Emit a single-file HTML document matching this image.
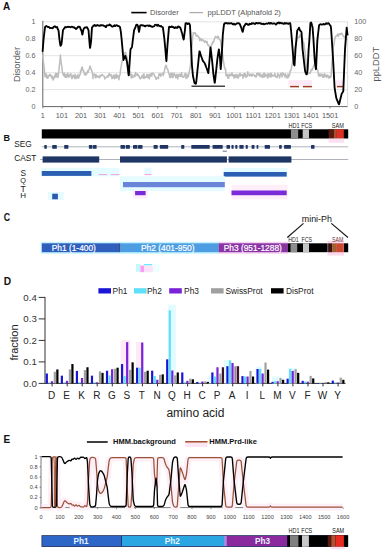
<!DOCTYPE html>
<html><head><meta charset="utf-8"><style>
html,body{margin:0;padding:0;background:#fff;width:382px;height:550px;overflow:hidden}
svg{display:block;font-family:"Liberation Sans", sans-serif}
</style></head><body>
<svg width="382" height="550" viewBox="0 0 382 550">
<rect width="382" height="550" fill="#fff"/>
<text x="2.9" y="10.4" font-size="10" font-weight="bold" fill="#111">A</text>
<line x1="131.3" y1="12.6" x2="146.6" y2="12.6" stroke="#000" stroke-width="1.6"/>
<text x="150" y="14.8" font-size="7.6" fill="#555">Disorder</text>
<line x1="189.5" y1="12.6" x2="203" y2="12.6" stroke="#aaa" stroke-width="1.2"/>
<text x="207.6" y="14.8" font-size="7.6" fill="#555">ppLDDT (Alphafold 2)</text>
<line x1="42.8" y1="89.6" x2="347.6" y2="89.6" stroke="#dcdcdc" stroke-width="0.8"/>
<line x1="42.8" y1="72.7" x2="347.6" y2="72.7" stroke="#dcdcdc" stroke-width="0.8"/>
<line x1="42.8" y1="55.7" x2="347.6" y2="55.7" stroke="#dcdcdc" stroke-width="0.8"/>
<line x1="42.8" y1="38.8" x2="347.6" y2="38.8" stroke="#dcdcdc" stroke-width="0.8"/>
<line x1="42.8" y1="21.8" x2="347.6" y2="21.8" stroke="#dcdcdc" stroke-width="0.8"/>
<line x1="42.8" y1="20.8" x2="42.8" y2="106.6" stroke="#555" stroke-width="0.9"/>
<line x1="42.8" y1="106.6" x2="347.6" y2="106.6" stroke="#555" stroke-width="0.9"/>
<line x1="347.6" y1="21.8" x2="347.6" y2="106.6" stroke="#d0d0d0" stroke-width="0.8"/>
<text x="35.5" y="109.1" font-size="7.2" fill="#666" text-anchor="end">0</text>
<text x="35.5" y="92.1" font-size="7.2" fill="#666" text-anchor="end">0.2</text>
<text x="35.5" y="75.2" font-size="7.2" fill="#666" text-anchor="end">0.4</text>
<text x="35.5" y="58.2" font-size="7.2" fill="#666" text-anchor="end">0.6</text>
<text x="35.5" y="41.3" font-size="7.2" fill="#666" text-anchor="end">0.8</text>
<text x="35.5" y="24.3" font-size="7.2" fill="#666" text-anchor="end">1</text>
<text x="354.3" y="109.1" font-size="7.2" fill="#666">0</text>
<text x="354.3" y="92.1" font-size="7.2" fill="#666">20</text>
<text x="354.3" y="75.2" font-size="7.2" fill="#666">40</text>
<text x="354.3" y="58.2" font-size="7.2" fill="#666">60</text>
<text x="354.3" y="41.3" font-size="7.2" fill="#666">80</text>
<text x="354.3" y="24.3" font-size="7.2" fill="#666">100</text>
<line x1="42.8" y1="106.6" x2="42.8" y2="108.39999999999999" stroke="#555" stroke-width="0.7"/>
<text x="42.8" y="118.2" font-size="7.3" fill="#5a5a5a" text-anchor="middle">1</text>
<line x1="61.9" y1="106.6" x2="61.9" y2="108.39999999999999" stroke="#555" stroke-width="0.7"/>
<text x="61.9" y="118.2" font-size="7.3" fill="#5a5a5a" text-anchor="middle">101</text>
<line x1="81.1" y1="106.6" x2="81.1" y2="108.39999999999999" stroke="#555" stroke-width="0.7"/>
<text x="81.1" y="118.2" font-size="7.3" fill="#5a5a5a" text-anchor="middle">201</text>
<line x1="100.2" y1="106.6" x2="100.2" y2="108.39999999999999" stroke="#555" stroke-width="0.7"/>
<text x="100.2" y="118.2" font-size="7.3" fill="#5a5a5a" text-anchor="middle">301</text>
<line x1="119.4" y1="106.6" x2="119.4" y2="108.39999999999999" stroke="#555" stroke-width="0.7"/>
<text x="119.4" y="118.2" font-size="7.3" fill="#5a5a5a" text-anchor="middle">401</text>
<line x1="138.6" y1="106.6" x2="138.6" y2="108.39999999999999" stroke="#555" stroke-width="0.7"/>
<text x="138.6" y="118.2" font-size="7.3" fill="#5a5a5a" text-anchor="middle">501</text>
<line x1="157.7" y1="106.6" x2="157.7" y2="108.39999999999999" stroke="#555" stroke-width="0.7"/>
<text x="157.7" y="118.2" font-size="7.3" fill="#5a5a5a" text-anchor="middle">601</text>
<line x1="176.8" y1="106.6" x2="176.8" y2="108.39999999999999" stroke="#555" stroke-width="0.7"/>
<text x="176.8" y="118.2" font-size="7.3" fill="#5a5a5a" text-anchor="middle">701</text>
<line x1="196.0" y1="106.6" x2="196.0" y2="108.39999999999999" stroke="#555" stroke-width="0.7"/>
<text x="196.0" y="118.2" font-size="7.3" fill="#5a5a5a" text-anchor="middle">801</text>
<line x1="215.1" y1="106.6" x2="215.1" y2="108.39999999999999" stroke="#555" stroke-width="0.7"/>
<text x="215.1" y="118.2" font-size="7.3" fill="#5a5a5a" text-anchor="middle">901</text>
<line x1="234.3" y1="106.6" x2="234.3" y2="108.39999999999999" stroke="#555" stroke-width="0.7"/>
<text x="234.3" y="118.2" font-size="7.3" fill="#5a5a5a" text-anchor="middle">1001</text>
<line x1="253.4" y1="106.6" x2="253.4" y2="108.39999999999999" stroke="#555" stroke-width="0.7"/>
<text x="253.4" y="118.2" font-size="7.3" fill="#5a5a5a" text-anchor="middle">1101</text>
<line x1="272.6" y1="106.6" x2="272.6" y2="108.39999999999999" stroke="#555" stroke-width="0.7"/>
<text x="272.6" y="118.2" font-size="7.3" fill="#5a5a5a" text-anchor="middle">1201</text>
<line x1="291.8" y1="106.6" x2="291.8" y2="108.39999999999999" stroke="#555" stroke-width="0.7"/>
<text x="291.8" y="118.2" font-size="7.3" fill="#5a5a5a" text-anchor="middle">1301</text>
<line x1="310.9" y1="106.6" x2="310.9" y2="108.39999999999999" stroke="#555" stroke-width="0.7"/>
<text x="310.9" y="118.2" font-size="7.3" fill="#5a5a5a" text-anchor="middle">1401</text>
<line x1="330.1" y1="106.6" x2="330.1" y2="108.39999999999999" stroke="#555" stroke-width="0.7"/>
<text x="330.1" y="118.2" font-size="7.3" fill="#5a5a5a" text-anchor="middle">1501</text>
<text transform="translate(20.2,64.5) rotate(-90)" font-size="9.3" fill="#555" text-anchor="middle">Disorder</text>
<text transform="translate(379.3,64.2) rotate(-90)" font-size="9.3" fill="#555" text-anchor="middle">ppLDDT</text>
<rect x="288.4" y="80.1" width="23.5" height="5.5" fill="#fdeaf6"/>
<rect x="336" y="80.3" width="7.5" height="5.5" fill="#fdeaf6"/>
<line x1="290.1" y1="86.6" x2="299" y2="86.6" stroke="#a03c1e" stroke-width="1.5"/>
<line x1="302.9" y1="86.6" x2="311.9" y2="86.6" stroke="#a03c1e" stroke-width="1.5"/>
<line x1="336.9" y1="86.6" x2="342.9" y2="86.6" stroke="#a03c1e" stroke-width="1.5"/>
<line x1="191.5" y1="86.2" x2="225" y2="86.2" stroke="#444" stroke-width="1.5"/>
<polyline points="42.6,54.7 42.6,55.2 43.2,59.1 43.5,62.5 43.8,64.4 44.4,69.7 45.0,76.7 45.0,74.5 45.6,75.9 46.2,73.7 46.8,78.1 47.0,77.2 47.4,76.0 48.0,78.2 48.6,75.4 49.2,76.0 49.8,74.2 50.0,75.5 50.4,74.7 51.0,75.3 51.6,78.1 52.2,76.0 52.8,77.3 53.0,80.0 53.4,79.6 54.0,77.8 54.6,76.4 55.2,74.5 55.8,73.4 56.0,77.4 56.4,75.3 57.0,73.5 57.6,76.4 58.0,77.4 58.2,75.1 58.8,72.3 59.4,65.2 59.5,65.0 60.0,59.7 60.4,55.1 60.6,57.5 61.2,62.9 61.5,65.1 61.8,66.5 62.4,72.2 63.0,74.0 63.0,74.1 63.6,75.7 64.2,73.0 64.8,76.9 65.4,76.6 66.0,77.5 66.0,74.4 66.6,77.4 67.2,74.0 67.8,73.2 68.4,77.0 69.0,76.9 69.0,77.0 69.6,75.3 70.2,74.6 70.8,73.6 71.4,77.4 72.0,78.1 72.0,78.7 72.6,75.7 73.2,75.1 73.8,77.1 74.4,77.8 75.0,78.4 75.0,74.2 75.6,76.1 76.2,78.5 76.8,76.2 77.4,77.3 78.0,74.5 78.0,77.9 78.6,78.0 79.2,76.3 79.8,75.4 80.4,73.0 80.5,70.7 81.0,71.7 81.6,67.8 82.0,67.2 82.2,67.0 82.8,70.0 83.4,69.9 83.5,71.4 84.0,71.8 84.6,74.8 85.2,73.0 85.8,75.1 86.0,73.4 86.4,74.0 87.0,73.6 87.6,70.8 88.2,72.3 88.5,70.4 88.8,70.3 89.4,68.2 90.0,65.9 90.0,66.4 90.6,67.8 91.2,69.6 91.5,69.8 91.8,71.4 92.4,72.0 93.0,78.6 93.0,74.7 93.6,74.8 94.2,74.0 94.8,75.0 95.4,77.8 96.0,77.5 96.0,74.6 96.6,75.8 97.2,75.9 97.8,77.1 98.4,76.0 99.0,76.6 99.6,77.8 100.0,77.2 100.2,75.3 100.8,75.9 101.4,75.7 102.0,74.5 102.6,75.1 103.2,75.7 103.8,76.0 104.0,76.0 104.4,77.2 105.0,79.0 105.6,77.6 106.2,77.4 106.8,76.9 107.4,75.8 108.0,77.2 108.0,76.0 108.6,75.3 109.2,73.4 109.8,75.8 110.4,74.7 111.0,74.6 111.6,76.8 112.0,78.5 112.2,75.9 112.8,78.2 113.4,76.8 114.0,74.7 114.6,78.8 115.2,75.7 115.8,75.0 116.0,77.8 116.4,74.3 117.0,77.9 117.6,75.4 118.2,76.9 118.8,76.5 119.0,79.8 119.4,75.3 120.0,75.1 120.5,70.2 120.6,69.7 121.2,66.1 121.8,62.5 122.0,61.5 122.4,61.0 123.0,58.3 123.6,57.5 124.2,55.5 124.8,53.3 125.3,52.2 125.4,52.2 126.0,54.3 126.6,56.6 127.0,57.4 127.2,59.4 127.8,64.2 128.0,64.7 128.4,67.0 129.0,69.3 129.6,70.4 130.0,75.8 130.2,71.4 130.8,73.6 131.4,77.9 132.0,74.8 132.0,77.8 132.6,76.4 133.2,77.3 133.8,76.2 134.4,74.7 135.0,76.6 135.6,72.6 136.0,74.7 136.2,74.4 136.8,75.3 137.4,73.8 138.0,74.6 138.6,76.6 139.2,76.0 139.8,78.4 140.0,77.5 140.4,78.8 141.0,78.0 141.6,77.1 142.2,75.3 142.8,77.8 143.4,74.9 144.0,73.8 144.0,78.4 144.6,76.4 145.2,77.7 145.8,76.6 146.4,77.2 147.0,74.3 147.6,75.3 148.0,77.9 148.2,77.3 148.8,74.8 149.4,78.7 150.0,74.2 150.6,75.8 151.2,73.5 151.8,76.2 152.0,73.8 152.4,73.3 153.0,73.1 153.6,74.1 154.2,74.5 154.8,76.6 155.4,76.4 156.0,79.4 156.0,79.4 156.6,78.4 157.2,77.6 157.8,78.3 158.4,78.7 159.0,73.8 159.6,74.1 160.0,75.3 160.2,73.8 160.8,76.3 161.4,74.3 162.0,74.1 162.6,74.0 163.0,72.9 163.2,75.6 163.8,73.1 164.4,70.9 165.0,67.8 165.6,66.2 166.0,65.2 166.2,65.3 166.8,67.7 167.4,69.3 168.0,69.8 168.0,70.5 168.6,72.8 169.2,74.2 169.8,77.6 170.0,75.0 170.4,73.4 171.0,77.4 171.6,73.3 172.2,73.3 172.8,77.7 173.4,76.5 174.0,74.2 174.0,73.1 174.6,74.7 175.2,74.8 175.8,77.8 176.4,75.8 177.0,74.3 177.6,79.0 178.0,77.6 178.2,74.9 178.8,74.6 179.4,76.1 180.0,73.9 180.6,76.4 181.2,76.0 181.8,72.7 182.0,76.6 182.4,76.6 183.0,77.4 183.6,76.3 184.2,76.6 184.8,74.0 185.4,73.4 186.0,73.7 186.0,78.4 186.6,76.6 187.2,77.9 187.8,74.6 188.4,76.5 189.0,72.7 189.0,73.3 189.6,69.8 190.2,67.1 190.5,65.1 190.8,60.5 191.4,51.4 191.5,50.1 192.0,45.9 192.6,38.2 193.0,34.9 193.2,32.7 193.8,33.3 194.4,33.5 195.0,33.3 195.0,32.4 195.6,33.6 196.2,36.0 196.8,36.1 197.0,36.2 197.4,35.3 198.0,36.0 198.6,37.1 199.2,37.6 199.8,40.5 200.0,38.2 200.4,39.4 201.0,38.9 201.6,40.7 202.2,39.4 202.8,39.8 203.0,39.9 203.4,40.5 204.0,41.5 204.6,42.2 205.2,41.0 205.8,41.2 206.4,42.7 206.8,42.6 207.0,41.4 207.6,44.3 208.2,45.4 208.8,45.2 209.0,46.2 209.4,46.2 210.0,47.0 210.5,48.0 210.6,47.8 211.2,46.1 211.8,44.6 212.0,43.3 212.4,43.9 213.0,41.5 213.6,42.0 214.2,39.8 214.8,38.0 215.4,36.5 215.6,37.0 216.0,36.8 216.6,37.5 217.2,37.3 217.8,36.3 218.0,38.4 218.4,36.5 219.0,38.9 219.6,39.1 220.0,39.6 220.2,40.1 220.8,42.2 221.4,46.5 222.0,49.9 222.0,50.2 222.6,54.4 223.2,59.2 223.8,63.1 224.0,64.8 224.4,66.7 225.0,68.9 225.6,69.4 226.0,75.4 226.2,74.3 226.8,75.9 227.4,74.4 228.0,78.3 228.0,77.6 228.6,78.3 229.2,74.1 229.8,75.4 230.4,74.8 231.0,75.8 231.6,73.8 232.0,72.9 232.2,74.9 232.8,75.9 233.4,74.7 234.0,78.0 234.6,75.2 235.2,74.8 235.8,77.6 236.0,75.8 236.4,74.7 237.0,74.6 237.6,77.9 238.2,77.9 238.8,76.1 239.4,74.0 240.0,76.1 240.0,73.5 240.6,74.2 241.2,75.5 241.8,74.9 242.4,74.8 243.0,78.2 243.6,74.2 244.0,76.6 244.2,73.5 244.8,73.5 245.4,73.8 246.0,77.6 246.6,75.9 247.2,76.3 247.8,71.8 248.0,74.9 248.4,73.9 249.0,74.1 249.6,75.9 250.2,74.1 250.8,75.5 251.4,74.5 252.0,75.4 252.0,76.2 252.6,74.1 253.2,74.5 253.8,75.1 254.4,75.3 255.0,76.8 255.6,75.8 256.0,75.3 256.2,76.9 256.8,73.5 257.4,73.1 258.0,74.7 258.6,73.4 259.2,75.7 259.8,75.9 260.0,73.6 260.4,76.6 261.0,75.7 261.6,74.9 262.2,77.4 262.8,77.0 263.4,73.6 264.0,73.3 264.0,77.2 264.6,73.4 265.2,76.6 265.8,74.5 266.4,74.9 267.0,76.0 267.6,78.1 268.0,73.4 268.2,74.1 268.8,76.7 269.4,74.8 270.0,73.9 270.6,77.1 271.2,73.2 271.8,75.2 272.0,76.4 272.4,75.5 273.0,75.3 273.6,75.6 274.2,76.1 274.8,73.5 275.4,75.5 276.0,76.6 276.0,77.0 276.6,77.3 277.2,77.4 277.8,73.4 278.4,75.0 279.0,75.5 279.6,77.9 280.0,75.6 280.2,74.7 280.8,73.3 281.4,74.6 282.0,77.0 282.6,72.9 283.2,73.5 283.8,74.1 284.0,75.2 284.4,74.4 285.0,77.2 285.6,73.9 286.2,75.9 286.8,77.1 287.4,78.1 288.0,77.9 288.0,74.1 288.6,76.9 289.2,75.7 289.8,73.8 290.0,71.5 290.4,70.7 291.0,70.3 291.5,67.5 291.6,67.2 292.2,64.0 292.8,61.4 293.0,59.8 293.4,57.1 294.0,53.8 294.6,50.2 295.0,48.3 295.2,46.9 295.8,44.9 296.4,41.8 297.0,40.0 297.0,39.6 297.6,38.1 298.2,37.6 298.8,36.9 299.4,37.3 300.0,34.8 300.0,35.5 300.6,36.5 301.2,36.9 301.8,38.0 302.0,38.0 302.4,39.0 303.0,41.5 303.6,42.4 304.0,44.3 304.2,45.9 304.8,50.0 305.0,51.8 305.4,56.5 306.0,62.4 306.5,67.4 306.6,66.6 307.2,69.6 307.8,73.6 308.0,74.1 308.4,73.1 309.0,72.9 309.6,73.1 310.0,72.4 310.2,73.3 310.8,71.2 311.4,69.2 312.0,69.5 312.0,70.5 312.6,68.9 313.2,66.8 313.8,66.2 314.4,64.2 315.0,63.2 315.0,62.8 315.6,64.8 316.2,66.9 316.8,68.9 317.4,69.3 318.0,71.5 318.0,71.6 318.6,76.1 319.2,75.2 319.8,73.8 320.0,76.1 320.4,76.1 321.0,75.7 321.6,74.1 322.2,75.1 322.8,77.2 323.4,74.5 324.0,75.0 324.0,77.2 324.6,73.8 325.2,76.5 325.8,75.4 326.4,77.1 327.0,75.0 327.6,76.1 328.0,75.3 328.2,77.8 328.8,77.9 329.4,76.2 330.0,77.8 330.6,76.3 331.0,76.7 331.2,74.5 331.8,64.5 332.4,57.7 333.0,49.4 333.0,49.5 333.6,45.5 334.2,43.1 334.8,38.3 335.0,38.0 335.4,36.4 336.0,36.3 336.6,35.9 337.2,35.0 337.8,34.0 338.0,35.7 338.4,36.2 339.0,34.2 339.6,34.0 340.0,34.5 340.2,33.6 340.8,34.5 341.4,33.2 342.0,33.2 342.0,34.1 342.6,34.8 343.2,35.9 343.8,36.8 344.4,36.8 345.0,37.5 345.0,36.3 345.6,36.9 346.2,38.5 346.8,39.8 347.0,38.8" fill="none" stroke="#bdbdbd" stroke-width="1.5" stroke-linejoin="round"/>
<path d="M42.60,51.16 L42.60,51.17 Q42.60,51.18 42.70,49.98 L43.40,41.38 Q43.50,40.19 43.50,39.97 L43.50,39.97 Q43.50,39.76 43.64,38.56 L44.26,33.45 Q44.40,32.26 44.55,31.07 L44.85,28.56 Q45.00,27.37 45.15,26.90 L45.15,26.90 Q45.30,26.43 45.75,26.21 L45.75,26.21 Q46.20,25.99 46.60,26.06 L46.60,26.06 Q47.00,26.14 47.05,26.47 L47.05,26.47 Q47.10,26.80 47.55,26.95 L47.55,26.95 Q48.00,27.10 48.45,26.99 L48.45,26.99 Q48.90,26.89 49.35,27.34 L49.35,27.34 Q49.80,27.79 49.90,28.03 L49.90,28.03 Q50.00,28.27 50.35,28.02 L50.35,28.02 Q50.70,27.76 51.15,27.85 L51.15,27.85 Q51.60,27.95 52.05,28.14 L52.05,28.14 Q52.50,28.33 52.75,28.06 L52.75,28.06 Q53.00,27.79 53.20,27.46 L53.20,27.46 Q53.40,27.13 53.85,26.74 L53.85,26.74 Q54.30,26.35 54.65,26.30 L54.65,26.30 Q55.00,26.25 55.10,26.41 L55.10,26.41 Q55.20,26.57 55.65,26.98 L55.65,26.98 Q56.10,27.40 56.55,27.42 L56.55,27.42 Q57.00,27.44 57.00,27.07 L57.00,27.07 Q57.00,26.71 57.37,27.85 L57.53,28.34 Q57.90,29.48 58.20,29.73 L58.20,29.73 Q58.50,29.98 58.61,31.18 L58.69,31.92 Q58.80,33.12 58.93,34.31 L59.37,38.57 Q59.50,39.76 59.60,40.43 L59.60,40.43 Q59.70,41.10 59.88,42.28 L60.22,44.63 Q60.40,45.82 60.50,45.84 L60.50,45.84 Q60.60,45.87 61.05,44.99 L61.05,44.99 Q61.50,44.11 61.50,44.16 L61.50,44.16 Q61.50,44.21 61.63,43.02 L62.27,36.88 Q62.40,35.69 62.52,34.49 L62.88,31.14 Q63.00,29.94 63.15,29.75 L63.15,29.75 Q63.30,29.56 63.75,28.95 L63.75,28.95 Q64.20,28.35 64.60,27.96 L64.60,27.96 Q65.00,27.58 65.05,27.23 L65.05,27.23 Q65.10,26.88 65.55,27.17 L65.55,27.17 Q66.00,27.46 66.45,27.16 L66.45,27.16 Q66.90,26.87 67.35,26.96 L67.35,26.96 Q67.80,27.06 67.90,26.78 L67.90,26.78 Q68.00,26.50 68.35,26.77 L68.35,26.77 Q68.70,27.04 69.15,26.91 L69.15,26.91 Q69.60,26.78 70.05,27.07 L70.05,27.07 Q70.50,27.37 70.75,27.21 L70.75,27.21 Q71.00,27.05 71.20,26.92 L71.20,26.92 Q71.40,26.79 71.85,26.67 L71.85,26.67 Q72.30,26.55 72.75,27.00 L72.75,27.00 Q73.20,27.46 73.60,27.19 L73.60,27.19 Q74.00,26.93 74.05,27.32 L74.05,27.32 Q74.10,27.71 74.55,28.00 L74.55,28.00 Q75.00,28.29 75.45,28.26 L75.45,28.26 Q75.90,28.24 75.95,28.75 L75.95,28.75 Q76.00,29.26 76.40,28.65 L76.40,28.65 Q76.80,28.05 77.25,27.85 L77.25,27.85 Q77.70,27.65 77.85,27.25 L77.85,27.25 Q78.00,26.85 78.30,26.76 L78.30,26.76 Q78.60,26.66 79.05,26.76 L79.05,26.76 Q79.50,26.85 79.75,26.92 L79.75,26.92 Q80.00,26.99 80.20,27.79 L80.20,27.79 Q80.40,28.60 80.85,29.45 L80.85,29.45 Q81.30,30.30 81.40,30.51 L81.40,30.51 Q81.50,30.71 81.73,31.89 L81.97,33.13 Q82.20,34.31 82.30,34.54 L82.30,34.54 Q82.40,34.76 82.63,33.58 L82.87,32.33 Q83.10,31.15 83.30,30.07 L83.30,30.07 Q83.50,28.99 83.75,28.76 L83.75,28.76 Q84.00,28.53 84.45,27.83 L84.45,27.83 Q84.90,27.14 84.95,27.42 L84.95,27.42 Q85.00,27.70 85.40,27.55 L85.40,27.55 Q85.80,27.40 86.25,27.26 L86.25,27.26 Q86.70,27.12 86.85,27.15 L86.85,27.15 Q87.00,27.19 87.30,27.70 L87.30,27.70 Q87.60,28.21 88.05,29.24 L88.05,29.24 Q88.50,30.28 88.50,30.06 L88.50,30.06 Q88.50,29.84 88.59,31.03 L89.21,38.92 Q89.30,40.11 89.35,40.69 L89.35,40.69 Q89.40,41.28 89.50,42.47 L89.90,47.23 Q90.00,48.43 90.15,47.50 L90.15,47.50 Q90.30,46.57 90.49,45.38 L90.81,43.44 Q91.00,42.26 91.08,41.06 L91.12,40.57 Q91.20,39.37 91.28,38.17 L91.92,28.42 Q92.00,27.22 92.05,27.39 L92.05,27.39 Q92.10,27.55 92.55,26.76 L92.55,26.76 Q93.00,25.97 93.45,26.06 L93.45,26.06 Q93.90,26.15 93.95,25.51 L93.95,25.51 Q94.00,24.88 94.40,24.83 L94.40,24.83 Q94.80,24.79 95.25,25.53 L95.25,25.53 Q95.70,26.27 96.15,25.84 L96.15,25.84 Q96.60,25.41 96.80,25.31 L96.80,25.31 Q97.00,25.21 97.25,25.04 L97.25,25.04 Q97.50,24.86 97.95,25.21 L97.95,25.21 Q98.40,25.56 98.85,25.61 L98.85,25.61 Q99.30,25.67 99.65,25.85 L99.65,25.85 Q100.00,26.04 100.10,25.61 L100.10,25.61 Q100.20,25.18 100.65,25.22 L100.65,25.22 Q101.10,25.25 101.55,25.23 L101.55,25.23 Q102.00,25.20 102.45,25.31 L102.45,25.31 Q102.90,25.42 102.95,25.30 L102.95,25.30 Q103.00,25.18 103.40,25.57 L103.40,25.57 Q103.80,25.95 104.25,25.84 L104.25,25.84 Q104.70,25.72 105.15,26.37 L105.15,26.37 Q105.60,27.02 105.80,27.13 L105.80,27.13 Q106.00,27.24 106.25,26.39 L106.25,26.39 Q106.50,25.55 106.95,25.44 L106.95,25.44 Q107.40,25.33 107.85,25.39 L107.85,25.39 Q108.30,25.45 108.65,25.44 L108.65,25.44 Q109.00,25.43 109.10,24.90 L109.10,24.90 Q109.20,24.37 109.65,24.62 L109.65,24.62 Q110.10,24.86 110.55,25.23 L110.55,25.23 Q111.00,25.60 111.45,25.92 L111.45,25.92 Q111.90,26.24 111.95,26.44 L111.95,26.44 Q112.00,26.65 112.40,26.55 L112.40,26.55 Q112.80,26.45 113.25,26.32 L113.25,26.32 Q113.70,26.19 114.15,25.52 L114.15,25.52 Q114.60,24.85 114.80,25.56 L114.80,25.56 Q115.00,26.26 115.25,26.01 L115.25,26.01 Q115.50,25.77 115.95,25.42 L115.95,25.42 Q116.40,25.07 116.85,25.28 L116.85,25.28 Q117.30,25.49 117.65,25.84 L117.65,25.84 Q118.00,26.19 118.10,26.03 L118.10,26.03 Q118.20,25.87 118.65,26.03 L118.65,26.03 Q119.10,26.19 119.55,26.59 L119.55,26.59 Q120.00,26.99 120.00,27.00 L120.00,27.00 Q120.00,27.02 120.20,28.20 L120.70,31.19 Q120.90,32.38 120.95,32.78 L120.95,32.78 Q121.00,33.18 121.12,34.37 L121.68,39.75 Q121.80,40.94 121.80,41.11 L121.80,41.11 Q121.80,41.28 121.91,42.48 L122.59,49.93 Q122.70,51.12 122.80,52.32 L123.40,59.09 Q123.50,60.28 123.55,59.88 L123.55,59.88 Q123.60,59.48 124.05,58.63 L124.05,58.63 Q124.50,57.79 124.90,56.71 L124.90,56.71 Q125.30,55.64 125.35,55.87 L125.35,55.87 Q125.40,56.10 125.74,57.26 L125.96,58.03 Q126.30,59.18 126.59,60.35 L126.71,60.86 Q127.00,62.03 127.10,62.79 L127.10,62.79 Q127.20,63.56 127.34,64.75 L127.96,69.82 Q128.10,71.02 128.24,72.21 L128.56,74.81 Q128.70,76.00 128.79,74.81 L128.91,73.27 Q129.00,72.08 129.08,70.88 L129.82,59.73 Q129.90,58.54 129.98,57.34 L130.42,50.52 Q130.50,49.32 130.65,49.09 L130.65,49.09 Q130.80,48.85 131.25,48.17 L131.25,48.17 Q131.70,47.48 131.85,47.34 L131.85,47.34 Q132.00,47.19 132.13,46.00 L132.47,43.01 Q132.60,41.82 132.75,40.63 L133.35,36.10 Q133.50,34.91 133.64,33.71 L133.86,31.96 Q134.00,30.77 134.20,30.08 L134.20,30.08 Q134.40,29.39 134.85,28.50 L134.85,28.50 Q135.30,27.61 135.69,26.47 L135.81,26.13 Q136.20,25.00 136.35,24.91 L136.35,24.91 Q136.50,24.82 136.80,24.63 L136.80,24.63 Q137.10,24.44 137.55,25.20 L137.55,25.20 Q138.00,25.95 138.00,26.05 L138.00,26.05 Q138.00,26.14 138.20,27.32 L138.70,30.29 Q138.90,31.48 138.95,31.80 L138.95,31.80 Q139.00,32.12 139.22,30.94 L139.58,29.01 Q139.80,27.83 139.90,26.71 L139.90,26.71 Q140.00,25.59 140.35,25.40 L140.35,25.40 Q140.70,25.21 141.15,25.25 L141.15,25.25 Q141.60,25.29 142.05,25.28 L142.05,25.28 Q142.50,25.28 142.75,25.51 L142.75,25.51 Q143.00,25.74 143.20,25.60 L143.20,25.60 Q143.40,25.47 143.85,25.64 L143.85,25.64 Q144.30,25.81 144.75,26.15 L144.75,26.15 Q145.20,26.49 145.60,26.06 L145.60,26.06 Q146.00,25.63 146.05,25.61 L146.05,25.61 Q146.10,25.60 146.55,25.65 L146.55,25.65 Q147.00,25.71 147.45,25.53 L147.45,25.53 Q147.90,25.36 148.35,25.57 L148.35,25.57 Q148.80,25.78 148.90,26.00 L148.90,26.00 Q149.00,26.22 149.35,25.70 L149.35,25.70 Q149.70,25.18 150.15,25.62 L150.15,25.62 Q150.60,26.06 151.05,26.34 L151.05,26.34 Q151.50,26.62 151.75,26.55 L151.75,26.55 Q152.00,26.49 152.20,26.76 L152.20,26.76 Q152.40,27.03 152.85,26.74 L152.85,26.74 Q153.30,26.45 153.75,26.41 L153.75,26.41 Q154.20,26.38 154.60,25.63 L154.60,25.63 Q155.00,24.88 155.05,24.94 L155.05,24.94 Q155.10,25.00 155.55,24.82 L155.55,24.82 Q156.00,24.64 156.45,25.17 L156.45,25.17 Q156.90,25.71 157.35,25.74 L157.35,25.74 Q157.80,25.77 157.90,25.00 L157.90,25.00 Q158.00,24.22 158.35,24.96 L158.35,24.96 Q158.70,25.70 159.15,25.80 L159.15,25.80 Q159.60,25.90 160.05,26.19 L160.05,26.19 Q160.50,26.49 160.75,26.06 L160.75,26.06 Q161.00,25.63 161.20,26.19 L161.20,26.19 Q161.40,26.74 161.85,26.81 L161.85,26.81 Q162.30,26.88 162.65,27.10 L162.65,27.10 Q163.00,27.32 163.10,28.52 L163.10,28.55 Q163.20,29.75 163.36,30.94 L163.94,35.34 Q164.10,36.53 164.23,37.72 L164.37,38.93 Q164.50,40.12 164.61,41.31 L164.89,44.36 Q165.00,45.55 165.10,46.75 L165.80,54.71 Q165.90,55.91 166.00,57.10 L166.30,60.64 Q166.40,61.83 166.47,60.64 L166.73,56.61 Q166.80,55.41 166.88,54.21 L167.42,46.18 Q167.50,44.98 167.60,43.78 L167.60,43.71 Q167.70,42.51 167.80,41.32 L168.50,32.81 Q168.60,31.61 168.70,30.42 L168.90,28.15 Q169.00,26.96 169.25,26.68 L169.25,26.68 Q169.50,26.41 169.95,26.83 L169.95,26.83 Q170.40,27.25 170.85,27.02 L170.85,27.02 Q171.30,26.80 171.65,26.48 L171.65,26.48 Q172.00,26.15 172.10,26.75 L172.10,26.75 Q172.20,27.36 172.65,27.08 L172.65,27.08 Q173.10,26.80 173.55,27.29 L173.55,27.29 Q174.00,27.77 174.45,28.05 L174.45,28.05 Q174.90,28.32 174.95,27.97 L174.95,27.97 Q175.00,27.62 175.40,27.29 L175.40,27.29 Q175.80,26.95 176.25,27.51 L176.25,27.51 Q176.70,28.06 177.15,27.96 L177.15,27.96 Q177.60,27.86 177.80,27.17 L177.80,27.17 Q178.00,26.47 178.25,26.51 L178.25,26.51 Q178.50,26.55 178.95,26.86 L178.95,26.86 Q179.40,27.17 179.85,27.39 L179.85,27.39 Q180.30,27.62 180.40,27.95 L180.40,27.95 Q180.50,28.28 180.85,29.31 L180.85,29.31 Q181.20,30.34 181.51,31.50 L181.69,32.13 Q182.00,33.29 182.05,33.28 L182.05,33.28 Q182.10,33.26 182.37,34.43 L182.73,36.01 Q183.00,37.18 183.29,38.34 L183.41,38.80 Q183.70,39.96 183.80,39.13 L183.80,39.13 Q183.90,38.30 184.05,37.11 L184.65,32.47 Q184.80,31.28 184.90,30.54 L184.90,30.54 Q185.00,29.80 185.09,28.60 L185.41,24.57 Q185.50,23.37 185.60,23.18 L185.60,23.18 Q185.70,22.99 186.15,23.16 L186.15,23.16 Q186.60,23.33 186.80,23.30 L186.80,23.30 Q187.00,23.27 187.25,23.67 L187.25,23.67 Q187.50,24.07 187.95,23.85 L187.95,23.85 Q188.40,23.64 188.70,23.36 L188.70,23.36 Q189.00,23.09 189.15,23.54 L189.15,23.54 Q189.30,23.99 189.65,24.44 L189.65,24.44 Q190.00,24.88 190.05,26.08 L190.15,28.06 Q190.20,29.25 190.26,30.45 L190.94,44.06 Q191.00,45.26 191.05,46.14 L191.05,46.14 Q191.10,47.01 191.16,48.21 L191.94,64.89 Q192.00,66.09 192.00,65.96 L192.00,65.96 Q192.00,65.83 192.11,67.03 L192.79,74.07 Q192.90,75.26 192.95,75.67 L192.95,75.67 Q193.00,76.07 193.26,77.24 L193.54,78.57 Q193.80,79.74 194.03,80.92 L194.27,82.08 Q194.50,83.25 194.60,83.26 L194.60,83.26 Q194.70,83.28 195.15,83.46 L195.15,83.46 Q195.60,83.65 195.80,83.77 L195.80,83.77 Q196.00,83.88 196.14,82.69 L196.36,80.89 Q196.50,79.69 196.63,78.50 L196.87,76.17 Q197.00,74.97 197.12,73.78 L197.28,72.17 Q197.40,70.98 197.52,69.78 L198.18,63.51 Q198.30,62.32 198.42,61.12 L199.08,54.67 Q199.20,53.48 199.34,52.28 L199.36,52.03 Q199.50,50.84 199.80,51.70 L199.80,51.70 Q200.10,52.56 200.41,53.71 L200.69,54.72 Q201.00,55.87 201.00,55.88 L201.00,55.88 Q201.00,55.89 201.45,57.00 L201.45,57.00 Q201.90,58.10 202.29,59.23 L202.41,59.59 Q202.80,60.72 203.00,61.07 L203.00,61.07 Q203.20,61.41 203.45,61.69 L203.45,61.69 Q203.70,61.98 204.15,62.36 L204.15,62.36 Q204.60,62.73 204.60,62.94 L204.60,62.94 Q204.60,63.15 205.05,64.22 L205.05,64.22 Q205.50,65.29 205.90,66.42 L206.00,66.70 Q206.40,67.83 206.45,67.83 L206.45,67.83 Q206.50,67.83 206.90,68.93 L206.90,68.93 Q207.30,70.02 207.67,71.17 L207.83,71.66 Q208.20,72.80 208.25,73.09 L208.25,73.09 Q208.30,73.37 208.41,72.17 L208.99,65.80 Q209.10,64.60 209.20,63.41 L209.40,61.10 Q209.50,59.91 209.60,58.71 L209.90,54.90 Q210.00,53.71 210.09,52.51 L210.41,47.93 Q210.50,46.73 210.63,47.92 L210.77,49.29 Q210.90,50.48 211.04,51.67 L211.66,56.93 Q211.80,58.12 211.90,59.04 L211.90,59.04 Q212.00,59.96 212.12,61.16 L212.58,65.64 Q212.70,66.83 212.81,68.03 L213.39,74.04 Q213.50,75.24 213.55,75.38 L213.55,75.38 Q213.60,75.53 213.77,76.72 L214.33,80.54 Q214.50,81.73 214.65,82.45 L214.65,82.45 Q214.80,83.17 214.93,81.97 L215.27,78.85 Q215.40,77.66 215.53,76.46 L215.87,73.16 Q216.00,71.97 216.14,70.77 L216.16,70.52 Q216.30,69.33 216.42,68.13 L217.08,61.90 Q217.20,60.71 217.33,59.51 L217.37,59.19 Q217.50,58.00 217.68,56.81 L217.92,55.16 Q218.10,53.97 218.29,52.79 L218.71,50.27 Q218.90,49.09 218.95,49.61 L218.95,49.61 Q219.00,50.13 219.16,51.32 L219.74,55.77 Q219.90,56.96 219.95,57.47 L219.95,57.47 Q220.00,57.98 220.07,59.18 L220.63,68.24 Q220.70,69.44 220.75,68.82 L220.75,68.82 Q220.80,68.20 220.90,67.00 L221.40,60.97 Q221.50,59.77 221.57,58.57 L221.63,57.54 Q221.70,56.34 221.76,55.14 L222.54,40.16 Q222.60,38.96 222.66,37.76 L222.74,36.13 Q222.80,34.93 222.93,33.73 L223.37,29.60 Q223.50,28.41 223.65,27.22 L223.85,25.56 Q224.00,24.37 224.20,23.97 L224.20,23.97 Q224.40,23.57 224.70,23.37 L224.70,23.37 Q225.00,23.17 225.15,23.22 L225.15,23.22 Q225.30,23.27 225.75,23.07 L225.75,23.07 Q226.20,22.87 226.65,23.16 L226.65,23.16 Q227.10,23.45 227.55,23.51 L227.55,23.51 Q228.00,23.57 228.00,23.38 L228.00,23.38 Q228.00,23.20 228.45,23.24 L228.45,23.24 Q228.90,23.28 229.35,23.41 L229.35,23.41 Q229.80,23.55 230.25,23.34 L230.25,23.34 Q230.70,23.13 230.85,23.17 L230.85,23.17 Q231.00,23.21 231.30,23.20 L231.30,23.20 Q231.60,23.18 232.05,23.70 L232.05,23.70 Q232.50,24.22 232.95,24.23 L232.95,24.23 Q233.40,24.24 233.70,23.83 L233.70,23.83 Q234.00,23.41 234.15,23.93 L234.15,23.93 Q234.30,24.45 234.75,24.46 L234.75,24.46 Q235.20,24.47 235.65,24.31 L235.65,24.31 Q236.10,24.16 236.55,23.70 L236.55,23.70 Q237.00,23.25 237.00,23.27 L237.00,23.27 Q237.00,23.29 237.45,23.26 L237.45,23.26 Q237.90,23.24 238.35,23.16 L238.35,23.16 Q238.80,23.09 239.25,23.50 L239.25,23.50 Q239.70,23.91 239.85,24.23 L239.85,24.23 Q240.00,24.56 240.30,25.30 L240.30,25.30 Q240.60,26.03 241.05,27.14 L241.05,27.15 Q241.50,28.26 241.50,28.41 L241.50,28.41 Q241.50,28.56 241.87,29.70 L242.03,30.18 Q242.40,31.32 242.55,31.73 L242.55,31.73 Q242.70,32.13 242.97,30.97 L243.03,30.74 Q243.30,29.57 243.52,28.39 L243.78,26.97 Q244.00,25.79 244.10,26.11 L244.10,26.11 Q244.20,26.42 244.65,25.52 L244.65,25.52 Q245.10,24.62 245.55,23.98 L245.55,23.98 Q246.00,23.35 246.00,23.86 L246.00,23.86 Q246.00,24.37 246.45,23.95 L246.45,23.95 Q246.90,23.52 247.35,24.21 L247.35,24.21 Q247.80,24.89 248.25,24.60 L248.25,24.60 Q248.70,24.31 248.85,24.63 L248.85,24.63 Q249.00,24.95 249.30,24.27 L249.30,24.27 Q249.60,23.58 250.05,23.83 L250.05,23.83 Q250.50,24.07 250.95,24.03 L250.95,24.03 Q251.40,23.98 251.70,23.45 L251.70,23.45 Q252.00,22.91 252.15,23.32 L252.15,23.32 Q252.30,23.72 252.75,23.43 L252.75,23.43 Q253.20,23.13 253.65,23.33 L253.65,23.33 Q254.10,23.54 254.55,23.66 L254.55,23.66 Q255.00,23.78 255.00,23.99 L255.00,23.99 Q255.00,24.19 255.45,23.65 L255.45,23.65 Q255.90,23.11 256.35,23.00 L256.35,23.00 Q256.80,22.90 257.25,23.22 L257.25,23.22 Q257.70,23.55 257.85,23.45 L257.85,23.45 Q258.00,23.35 258.30,23.19 L258.30,23.19 Q258.60,23.03 259.05,22.96 L259.05,22.96 Q259.50,22.90 259.95,23.30 L259.95,23.30 Q260.40,23.71 260.70,23.58 L260.70,23.58 Q261.00,23.45 261.15,23.35 L261.15,23.35 Q261.30,23.25 261.75,23.77 L261.75,23.77 Q262.20,24.30 262.65,23.84 L262.65,23.84 Q263.10,23.37 263.55,23.93 L263.55,23.93 Q264.00,24.49 264.00,24.34 L264.00,24.34 Q264.00,24.19 264.45,24.06 L264.45,24.06 Q264.90,23.93 265.35,23.81 L265.35,23.81 Q265.80,23.69 266.25,23.59 L266.25,23.59 Q266.70,23.50 266.85,23.55 L266.85,23.55 Q267.00,23.61 267.30,23.69 L267.30,23.69 Q267.60,23.77 268.05,23.32 L268.05,23.32 Q268.50,22.86 268.95,22.86 L268.95,22.86 Q269.40,22.86 269.70,23.50 L269.70,23.50 Q270.00,24.13 270.15,23.56 L270.15,23.56 Q270.30,22.98 270.75,22.92 L270.75,22.92 Q271.20,22.86 271.65,23.25 L271.65,23.25 Q272.10,23.64 272.55,23.69 L272.55,23.69 Q273.00,23.75 273.00,23.65 L273.00,23.65 Q273.00,23.55 273.45,23.44 L273.45,23.44 Q273.90,23.33 274.35,23.36 L274.35,23.36 Q274.80,23.40 275.25,24.04 L275.25,24.04 Q275.70,24.68 275.85,24.53 L275.85,24.53 Q276.00,24.38 276.30,24.19 L276.30,24.19 Q276.60,24.01 277.05,23.36 L277.05,23.36 Q277.50,22.72 277.95,22.72 L277.95,22.72 Q278.40,22.71 278.70,22.47 L278.70,22.47 Q279.00,22.22 279.15,22.96 L279.15,22.96 Q279.30,23.70 279.75,23.24 L279.75,23.24 Q280.20,22.78 280.65,22.80 L280.65,22.80 Q281.10,22.82 281.55,23.23 L281.55,23.23 Q282.00,23.63 282.00,23.33 L282.00,23.33 Q282.00,23.02 282.45,23.22 L282.45,23.22 Q282.90,23.42 283.35,23.67 L283.35,23.67 Q283.80,23.92 284.25,23.78 L284.25,23.78 Q284.70,23.63 284.85,23.11 L284.85,23.11 Q285.00,22.59 285.30,23.18 L285.30,23.18 Q285.60,23.77 286.05,23.43 L286.05,23.43 Q286.50,23.09 286.95,23.26 L286.95,23.26 Q287.40,23.44 287.70,23.33 L287.70,23.33 Q288.00,23.22 288.15,23.73 L288.15,23.73 Q288.30,24.23 288.75,23.58 L288.75,23.58 Q289.20,22.93 289.65,23.18 L289.65,23.18 Q290.10,23.42 290.20,23.31 L290.20,23.31 Q290.30,23.19 290.42,24.39 L290.88,28.92 Q291.00,30.11 291.00,29.94 L291.00,29.94 Q291.00,29.76 291.11,30.96 L291.79,38.73 Q291.90,39.92 291.95,40.61 L291.95,40.61 Q292.00,41.30 292.09,42.49 L292.71,50.38 Q292.80,51.58 292.89,52.78 L293.61,62.02 Q293.70,63.22 293.70,63.17 L293.70,63.17 Q293.70,63.13 294.03,64.28 L294.17,64.75 Q294.50,65.90 294.55,65.20 L294.55,65.20 Q294.60,64.50 294.67,63.30 L295.43,50.41 Q295.50,49.21 295.50,49.22 L295.50,49.22 Q295.50,49.23 295.61,48.03 L296.29,40.73 Q296.40,39.54 296.51,38.34 L297.09,31.92 Q297.20,30.73 297.25,30.53 L297.25,30.53 Q297.30,30.32 297.75,29.76 L297.75,29.76 Q298.20,29.19 298.60,28.40 L298.60,28.40 Q299.00,27.61 299.05,27.75 L299.05,27.75 Q299.10,27.89 299.49,29.02 L299.61,29.35 Q300.00,30.48 300.00,30.41 L300.00,30.41 Q300.00,30.33 300.45,30.85 L300.45,30.85 Q300.90,31.37 301.20,31.58 L301.20,31.58 Q301.50,31.79 301.57,32.99 L301.73,35.83 Q301.80,37.03 301.88,38.22 L302.52,48.39 Q302.60,49.59 302.65,49.85 L302.65,49.85 Q302.70,50.12 302.84,51.31 L303.46,56.77 Q303.60,57.96 303.72,59.15 L303.88,60.60 Q304.00,61.80 304.15,62.99 L304.35,64.67 Q304.50,65.86 304.64,67.05 L305.06,70.66 Q305.20,71.86 305.30,71.97 L305.30,71.97 Q305.40,72.09 305.85,73.12 L305.85,73.12 Q306.30,74.15 306.45,74.40 L306.45,74.40 Q306.60,74.64 306.87,73.47 L306.93,73.21 Q307.20,72.04 307.40,70.92 L307.40,70.92 Q307.60,69.80 307.66,68.60 L308.04,61.10 Q308.10,59.90 308.16,58.70 L308.54,50.89 Q308.60,49.70 308.70,48.50 L308.90,46.03 Q309.00,44.84 309.10,43.64 L309.20,42.34 Q309.30,41.15 309.37,39.95 L309.83,32.67 Q309.90,31.47 309.97,30.28 L310.33,24.07 Q310.40,22.88 310.60,23.09 L310.60,23.09 Q310.80,23.30 310.90,22.67 L310.90,22.67 Q311.00,22.04 311.35,23.07 L311.35,23.07 Q311.70,24.10 312.03,25.25 L312.17,25.70 Q312.50,26.85 312.55,27.27 L312.55,27.27 Q312.60,27.69 312.69,28.89 L313.41,38.77 Q313.50,39.97 313.50,40.09 L313.50,40.09 Q313.50,40.21 313.57,41.41 L314.33,53.61 Q314.40,54.80 314.47,56.00 L314.63,58.98 Q314.70,60.18 314.85,61.37 L315.15,63.86 Q315.30,65.05 315.47,66.24 L315.83,68.83 Q316.00,70.02 316.06,68.82 L316.14,66.94 Q316.20,65.75 316.25,64.55 L317.05,46.83 Q317.10,45.63 317.15,44.43 L317.25,42.34 Q317.30,41.14 317.42,39.95 L317.88,35.64 Q318.00,34.44 318.14,33.25 L318.76,28.00 Q318.90,26.81 318.95,26.00 L318.95,26.00 Q319.00,25.19 319.40,24.78 L319.40,24.78 Q319.80,24.36 320.25,24.30 L320.25,24.30 Q320.70,24.24 320.85,24.21 L320.85,24.21 Q321.00,24.18 321.30,24.41 L321.30,24.41 Q321.60,24.64 322.05,24.58 L322.05,24.58 Q322.50,24.51 322.95,24.12 L322.95,24.12 Q323.40,23.73 323.70,24.18 L323.70,24.18 Q324.00,24.62 324.15,24.39 L324.15,24.39 Q324.30,24.15 324.75,24.29 L324.75,24.29 Q325.20,24.43 325.65,23.75 L325.65,23.75 Q326.10,23.07 326.55,23.41 L326.55,23.41 Q327.00,23.75 327.00,23.86 L327.00,23.86 Q327.00,23.97 327.45,23.52 L327.45,23.52 Q327.90,23.06 328.35,23.19 L328.35,23.19 Q328.80,23.32 329.25,24.18 L329.25,24.18 Q329.70,25.03 329.85,25.08 L329.85,25.08 Q330.00,25.13 330.30,25.31 L330.30,25.31 Q330.60,25.48 330.80,26.58 L330.80,26.58 Q331.00,27.68 331.09,28.87 L331.41,33.50 Q331.50,34.69 331.58,35.89 L332.32,47.51 Q332.40,48.71 332.48,49.91 L332.92,56.79 Q333.00,57.98 333.07,59.18 L333.23,62.23 Q333.30,63.43 333.36,64.63 L334.14,79.16 Q334.20,80.36 334.27,81.55 L334.53,86.37 Q334.60,87.57 334.78,88.75 L334.92,89.66 Q335.10,90.85 335.30,92.03 L335.80,95.04 Q336.00,96.22 336.15,97.24 L336.15,97.24 Q336.30,98.25 336.60,98.89 L336.60,98.89 Q336.90,99.52 337.35,100.63 L337.35,100.65 Q337.80,101.76 338.23,102.88 L338.27,102.97 Q338.70,104.09 338.85,104.30 L338.85,104.30 Q339.00,104.50 339.30,103.48 L339.30,103.48 Q339.60,102.46 339.86,101.29 L340.24,99.52 Q340.50,98.34 340.82,97.19 L341.08,96.24 Q341.40,95.08 341.45,94.60 L341.45,94.60 Q341.50,94.13 341.90,93.57 L341.90,93.57 Q342.30,93.01 342.75,92.18 L342.75,92.18 Q343.20,91.35 343.25,91.19 L343.25,91.19 Q343.30,91.02 343.35,89.83 L344.05,72.43 Q344.10,71.23 344.15,70.03 L344.95,50.89 Q345.00,49.69 345.00,49.54 L345.00,49.54 Q345.00,49.39 345.09,48.20 L345.81,38.66 Q345.90,37.46 345.99,36.26 L346.61,28.50 Q346.70,27.31 346.75,28.01 L346.75,28.01 Q346.80,28.72 346.94,29.91 L347.60,35.46" fill="none" stroke="#000" stroke-width="1.85" stroke-linejoin="round"/>
<text x="3.6" y="140.7" font-size="9" font-weight="bold" fill="#111">B</text>
<rect x="41.8" y="129.3" width="306.4" height="9.2" fill="#000"/>
<rect x="290.9" y="129.3" width="7.3" height="9.2" fill="#8e8e8e"/>
<rect x="302.7" y="129.3" width="6.3" height="9.2" fill="#c4c4c4"/>
<rect x="328.6" y="129.3" width="5.2" height="9.2" fill="#5a1a12"/>
<rect x="333.8" y="129.3" width="3" height="9.2" fill="#a8502c"/>
<rect x="336.5" y="129.3" width="7.3" height="9.2" fill="#e03224"/>
<rect x="328.6" y="138.5" width="15.7" height="4.2" fill="#fde0f0"/>
<text font-size="6.6" fill="#222" transform="translate(288.6,128.2) scale(0.84,1)">HD1 FCS</text>
<text font-size="6.6" fill="#222" transform="translate(331.8,128.2) scale(0.84,1)">SAM</text>
<text x="14.2" y="146.8" font-size="8.3" fill="#222">SEG</text>
<text x="14.2" y="161.1" font-size="8.3" fill="#222">CAST</text>
<text x="23.2" y="175.7" font-size="8.3" fill="#222" text-anchor="middle">S</text>
<text x="23.2" y="182.9" font-size="7.3" fill="#222" text-anchor="middle">Q</text>
<text x="23.2" y="191.7" font-size="8.6" fill="#222" text-anchor="middle">T</text>
<text x="23.2" y="197.9" font-size="8.0" fill="#222" text-anchor="middle">H</text>
<line x1="41.8" y1="146.8" x2="348.2" y2="146.8" stroke="#9aa0aa" stroke-width="0.8"/>
<rect x="44.3" y="144.9" width="2.5" height="3.9" rx="0.6" fill="#1f3563"/>
<rect x="52.2" y="144.9" width="4.6" height="3.9" rx="0.6" fill="#1f3563"/>
<rect x="64.2" y="144.9" width="4.2" height="3.9" rx="0.6" fill="#1f3563"/>
<rect x="88.9" y="144.9" width="3.6" height="3.9" rx="0.6" fill="#1f3563"/>
<rect x="93" y="144.9" width="3.6" height="3.9" rx="0.6" fill="#1f3563"/>
<rect x="120.5" y="144.9" width="4.5" height="3.9" rx="0.6" fill="#1f3563"/>
<rect x="125.7" y="144.9" width="4.2" height="3.9" rx="0.6" fill="#1f3563"/>
<rect x="133" y="144.9" width="4.5" height="3.9" rx="0.6" fill="#1f3563"/>
<rect x="138" y="144.9" width="4.5" height="3.9" rx="0.6" fill="#1f3563"/>
<rect x="153.6" y="144.9" width="4.1" height="3.9" rx="0.6" fill="#1f3563"/>
<rect x="159.8" y="144.9" width="8.4" height="3.9" rx="0.6" fill="#1f3563"/>
<rect x="181.2" y="144.9" width="3.1" height="3.9" rx="0.6" fill="#1f3563"/>
<rect x="191.3" y="144.9" width="18.4" height="3.9" rx="0.6" fill="#1f3563"/>
<rect x="212.6" y="144.9" width="10.1" height="3.9" rx="0.6" fill="#1f3563"/>
<rect x="226.5" y="144.9" width="3.5" height="3.9" rx="0.6" fill="#1f3563"/>
<rect x="231.5" y="144.9" width="2.1" height="3.9" rx="0.6" fill="#1f3563"/>
<rect x="235.3" y="144.9" width="2.1" height="3.9" rx="0.6" fill="#1f3563"/>
<rect x="239.4" y="144.9" width="4.2" height="3.9" rx="0.6" fill="#1f3563"/>
<rect x="245.7" y="144.9" width="2.1" height="3.9" rx="0.6" fill="#1f3563"/>
<rect x="251.6" y="144.9" width="2.9" height="3.9" rx="0.6" fill="#1f3563"/>
<rect x="256.6" y="144.9" width="1.7" height="3.9" rx="0.6" fill="#1f3563"/>
<rect x="264.7" y="144.9" width="5.3" height="3.9" rx="0.6" fill="#1f3563"/>
<rect x="279.1" y="144.9" width="2.6" height="3.9" rx="0.6" fill="#1f3563"/>
<rect x="284.1" y="144.9" width="6.8" height="3.9" rx="0.6" fill="#1f3563"/>
<rect x="311" y="144.9" width="3.5" height="3.9" rx="0.6" fill="#1f3563"/>
<line x1="222.7" y1="151.2" x2="226.9" y2="151.2" stroke="#1f3563" stroke-width="0.7"/>
<line x1="40" y1="159.5" x2="348.2" y2="159.5" stroke="#9aa0aa" stroke-width="0.8"/>
<rect x="42.6" y="156.4" width="56.6" height="6.2" fill="#1f3563"/>
<rect x="120" y="156.4" width="106.9" height="6.2" fill="#1f3563"/>
<rect x="228.6" y="156.4" width="62.8" height="6.2" fill="#1f3563"/>
<rect x="41" y="167.9" width="78.4" height="8.4" fill="#e4fbff"/>
<rect x="144.5" y="167.9" width="7" height="6.5" fill="#e4fbff"/>
<rect x="223.7" y="168" width="63.8" height="8.4" fill="#e4fbff"/>
<rect x="41.8" y="171" width="49.6" height="4.9" fill="#2b5fb4"/>
<rect x="223.7" y="172" width="63" height="4.6" fill="#2b5fb4"/>
<line x1="98.7" y1="174.6" x2="107" y2="174.6" stroke="#f4a0e4" stroke-width="1"/>
<line x1="110.9" y1="174.6" x2="119.4" y2="174.6" stroke="#f4a0e4" stroke-width="1"/>
<line x1="144.5" y1="174.6" x2="151.5" y2="174.6" stroke="#f4a0e4" stroke-width="1"/>
<rect x="120" y="176.3" width="104.8" height="14.7" fill="#e4fbff"/>
<rect x="123" y="182" width="101.8" height="5.2" fill="#6a84da"/>
<rect x="231.5" y="184.7" width="56" height="14.6" fill="#fdeef8"/>
<rect x="133" y="190" width="14.6" height="8.5" fill="#fdeef8"/>
<rect x="135.1" y="191" width="10.5" height="4.2" fill="#7a2ad8"/>
<rect x="231.5" y="190.5" width="55.2" height="4.7" fill="#7a2ad8"/>
<rect x="48" y="192" width="15.5" height="8" fill="#e4fbff"/>
<rect x="52.2" y="193.7" width="5.7" height="5.6" fill="#2f58b0"/>
<text transform="translate(3.7,221.3) scale(0.86,1)" font-size="10.2" font-weight="bold" fill="#111">C</text>
<rect x="40.7" y="241.8" width="180" height="12" fill="#c4f3ff"/>
<rect x="218.6" y="241.8" width="69.5" height="12" fill="#f6d2f2"/>
<rect x="41.8" y="243.3" width="77.4" height="8.9" fill="#2f5ebd"/>
<rect x="119.2" y="243.3" width="1.3" height="8.9" fill="#1c2e6a"/>
<rect x="120.5" y="243.3" width="98.1" height="8.9" fill="#4d9de2"/>
<rect x="218.6" y="243.3" width="69.1" height="8.9" fill="#8a34a6"/>
<rect x="287.7" y="243.3" width="60.5" height="8.9" fill="#000"/>
<rect x="290.5" y="243.3" width="6.7" height="8.9" fill="#8e8e8e"/>
<rect x="303" y="243.3" width="6" height="8.9" fill="#c4c4c4"/>
<rect x="327.6" y="240.8" width="16.4" height="14.7" fill="#fbd8ec"/>
<rect x="328.1" y="243.3" width="4" height="8.9" fill="#3a1410"/>
<rect x="332.1" y="243.3" width="4" height="8.9" fill="#a06030"/>
<rect x="336.1" y="243.3" width="7.7" height="8.9" fill="#c84a30"/>
<text x="51.7" y="250.6" font-size="8.4" fill="#fff" stroke="#fff" stroke-width="0.2">Ph1 (1-400)</text>
<text x="141" y="250.6" font-size="8.4" fill="#fff" stroke="#fff" stroke-width="0.2">Ph2 (401-950)</text>
<text x="223.7" y="250.6" font-size="8.4" fill="#fff" stroke="#fff" stroke-width="0.2">Ph3 (951-1288)</text>
<text x="301.8" y="221.8" font-size="8.9" fill="#111">mini-Ph</text>
<polyline points="303.5,223.4 287.3,237.5" fill="none" stroke="#111" stroke-width="1.1"/>
<polyline points="331.3,223.4 348,237.5" fill="none" stroke="#111" stroke-width="1.1"/>
<text font-size="7" fill="#222" transform="translate(288.3,241.6) scale(0.75,1)">HD1</text>
<text font-size="7" fill="#222" transform="translate(301.6,241.6) scale(0.75,1)">FCS</text>
<text font-size="7" fill="#6a3030" transform="translate(332,241.6) scale(0.75,1)">SAM</text>
<rect x="136" y="264" width="4.4" height="7.8" fill="#c4f8ff"/>
<rect x="140.4" y="265.6" width="3.8" height="6.6" fill="#fc9cf0"/>
<rect x="144.2" y="265.6" width="8.7" height="6.6" fill="#fde2fa"/>
<rect x="143.8" y="264" width="8.2" height="1.3" fill="#6ae8ff"/>
<rect x="152.9" y="264" width="6.5" height="8" fill="#effeff"/>
<text x="3.7" y="284.8" font-size="10.2" font-weight="bold" fill="#111">D</text>
<rect x="98.4" y="288.2" width="12.6" height="5.3" fill="#1a16d8"/>
<text x="112.6" y="293.9" font-size="8.4" fill="#222">Ph1</text>
<rect x="134" y="288.2" width="12.6" height="5.3" fill="#5ee0fa"/>
<text x="147" y="293.9" font-size="8.4" fill="#222">Ph2</text>
<rect x="169.2" y="288.2" width="12.6" height="5.3" fill="#7a22d8"/>
<text x="184.1" y="293.9" font-size="8.4" fill="#222">Ph3</text>
<rect x="211" y="288.2" width="12.6" height="5.3" fill="#a0a0a0"/>
<text x="225.4" y="293.9" font-size="8.4" fill="#222">SwissProt</text>
<rect x="271" y="288.2" width="12.6" height="5.3" fill="#000"/>
<text x="286" y="293.9" font-size="8.4" fill="#222">DisProt</text>
<line x1="45.0" y1="296.9" x2="45.0" y2="383.4" stroke="#333" stroke-width="1"/>
<line x1="45.0" y1="383.4" x2="345.5" y2="383.4" stroke="#333" stroke-width="1"/>
<line x1="38.7" y1="383.4" x2="45.0" y2="383.4" stroke="#333" stroke-width="1"/>
<text x="36.8" y="386.8" font-size="9.7" fill="#333" text-anchor="end">0.0</text>
<line x1="38.7" y1="361.9" x2="45.0" y2="361.9" stroke="#333" stroke-width="1"/>
<text x="36.8" y="365.3" font-size="9.7" fill="#333" text-anchor="end">0.1</text>
<line x1="38.7" y1="340.4" x2="45.0" y2="340.4" stroke="#333" stroke-width="1"/>
<text x="36.8" y="343.8" font-size="9.7" fill="#333" text-anchor="end">0.2</text>
<line x1="38.7" y1="318.9" x2="45.0" y2="318.9" stroke="#333" stroke-width="1"/>
<text x="36.8" y="322.3" font-size="9.7" fill="#333" text-anchor="end">0.3</text>
<line x1="38.7" y1="297.4" x2="45.0" y2="297.4" stroke="#333" stroke-width="1"/>
<text x="36.8" y="300.8" font-size="9.7" fill="#333" text-anchor="end">0.4</text>
<text transform="translate(17.8,342.5) rotate(-90)" font-size="11" fill="#222" text-anchor="middle">fraction</text>
<text x="195.4" y="416.5" font-size="12" fill="#222" text-anchor="middle">amino acid</text>
<rect x="120.5" y="340" width="9.9" height="43.4" fill="#fdeaf6"/>
<rect x="136" y="341.9" width="7.6" height="41.5" fill="#fdeaf6"/>
<rect x="168" y="304.7" width="7.8" height="78.7" fill="#e2fbff"/>
<rect x="224" y="359.9" width="7.8" height="23.5" fill="#e2fbff"/>
<rect x="255.5" y="366.5" width="6.5" height="16.9" fill="#e2fbff"/>
<rect x="272" y="376.5" width="9.0" height="6.9" fill="#e2fbff"/>
<rect x="288.2" y="368" width="8.3" height="15.4" fill="#e2fbff"/>
<rect x="207.7" y="376" width="3.8" height="7.4" fill="#e2fbff"/>
<rect x="45.73" y="373.51" width="2.20" height="9.89" fill="#1a16d8"/>
<rect x="48.27" y="382.54" width="2.20" height="0.86" fill="#5ee0fa"/>
<rect x="50.83" y="381.25" width="2.20" height="2.15" fill="#7a22d8"/>
<rect x="53.73" y="371.79" width="2.20" height="11.61" fill="#a0a0a0"/>
<rect x="56.27" y="369.42" width="2.20" height="13.97" fill="#000"/>
<line x1="52.1" y1="383.4" x2="52.1" y2="386.4" stroke="#333" stroke-width="1"/>
<text x="51.6" y="399.4" font-size="10" fill="#222" text-anchor="middle">D</text>
<rect x="60.78" y="375.66" width="2.20" height="7.74" fill="#1a16d8"/>
<rect x="63.33" y="382.54" width="2.20" height="0.86" fill="#5ee0fa"/>
<rect x="65.88" y="380.82" width="2.20" height="2.58" fill="#7a22d8"/>
<rect x="68.78" y="369.42" width="2.20" height="13.97" fill="#a0a0a0"/>
<rect x="71.33" y="364.05" width="2.20" height="19.35" fill="#000"/>
<line x1="67.2" y1="383.4" x2="67.2" y2="386.4" stroke="#333" stroke-width="1"/>
<text x="66.7" y="399.4" font-size="10" fill="#222" text-anchor="middle">E</text>
<rect x="75.83" y="370.93" width="2.20" height="12.47" fill="#1a16d8"/>
<rect x="78.38" y="382.11" width="2.20" height="1.29" fill="#5ee0fa"/>
<rect x="80.92" y="378.02" width="2.20" height="5.38" fill="#7a22d8"/>
<rect x="83.83" y="370.07" width="2.20" height="13.33" fill="#a0a0a0"/>
<rect x="86.38" y="367.27" width="2.20" height="16.12" fill="#000"/>
<line x1="82.2" y1="383.4" x2="82.2" y2="386.4" stroke="#333" stroke-width="1"/>
<text x="81.7" y="399.4" font-size="10" fill="#222" text-anchor="middle">K</text>
<rect x="90.88" y="375.66" width="2.20" height="7.74" fill="#1a16d8"/>
<rect x="93.42" y="382.32" width="2.20" height="1.07" fill="#5ee0fa"/>
<rect x="95.97" y="382.32" width="2.20" height="1.07" fill="#7a22d8"/>
<rect x="98.88" y="371.36" width="2.20" height="12.04" fill="#a0a0a0"/>
<rect x="101.42" y="372.86" width="2.20" height="10.54" fill="#000"/>
<line x1="97.2" y1="383.4" x2="97.2" y2="386.4" stroke="#333" stroke-width="1"/>
<text x="96.8" y="399.4" font-size="10" fill="#222" text-anchor="middle">R</text>
<rect x="105.93" y="370.71" width="2.20" height="12.68" fill="#1a16d8"/>
<rect x="108.48" y="375.44" width="2.20" height="7.95" fill="#5ee0fa"/>
<rect x="111.03" y="369.21" width="2.20" height="14.19" fill="#7a22d8"/>
<rect x="113.93" y="368.78" width="2.20" height="14.62" fill="#a0a0a0"/>
<rect x="116.48" y="367.70" width="2.20" height="15.69" fill="#000"/>
<line x1="112.3" y1="383.4" x2="112.3" y2="386.4" stroke="#333" stroke-width="1"/>
<text x="111.8" y="399.4" font-size="10" fill="#222" text-anchor="middle">G</text>
<rect x="120.97" y="364.05" width="2.20" height="19.35" fill="#1a16d8"/>
<rect x="123.52" y="376.09" width="2.20" height="7.31" fill="#5ee0fa"/>
<rect x="126.07" y="342.12" width="2.20" height="41.28" fill="#7a22d8"/>
<rect x="128.97" y="369.85" width="2.20" height="13.54" fill="#a0a0a0"/>
<rect x="131.52" y="362.33" width="2.20" height="21.07" fill="#000"/>
<line x1="127.3" y1="383.4" x2="127.3" y2="386.4" stroke="#333" stroke-width="1"/>
<text x="126.8" y="399.4" font-size="10" fill="#222" text-anchor="middle">S</text>
<rect x="136.03" y="367.70" width="2.20" height="15.69" fill="#1a16d8"/>
<rect x="138.58" y="367.70" width="2.20" height="15.69" fill="#5ee0fa"/>
<rect x="141.12" y="342.55" width="2.20" height="40.85" fill="#7a22d8"/>
<rect x="144.03" y="371.79" width="2.20" height="11.61" fill="#a0a0a0"/>
<rect x="146.57" y="370.71" width="2.20" height="12.68" fill="#000"/>
<line x1="142.4" y1="383.4" x2="142.4" y2="386.4" stroke="#333" stroke-width="1"/>
<text x="141.9" y="399.4" font-size="10" fill="#222" text-anchor="middle">T</text>
<rect x="151.08" y="370.71" width="2.20" height="12.68" fill="#1a16d8"/>
<rect x="153.63" y="376.09" width="2.20" height="7.31" fill="#5ee0fa"/>
<rect x="156.18" y="379.75" width="2.20" height="3.66" fill="#7a22d8"/>
<rect x="159.08" y="374.80" width="2.20" height="8.60" fill="#a0a0a0"/>
<rect x="161.62" y="374.37" width="2.20" height="9.03" fill="#000"/>
<line x1="157.5" y1="383.4" x2="157.5" y2="386.4" stroke="#333" stroke-width="1"/>
<text x="157.0" y="399.4" font-size="10" fill="#222" text-anchor="middle">N</text>
<rect x="166.12" y="359.32" width="2.20" height="24.08" fill="#1a16d8"/>
<rect x="168.68" y="310.30" width="2.20" height="73.10" fill="#5ee0fa"/>
<rect x="171.22" y="370.50" width="2.20" height="12.90" fill="#7a22d8"/>
<rect x="174.12" y="375.44" width="2.20" height="7.95" fill="#a0a0a0"/>
<rect x="176.67" y="372.44" width="2.20" height="10.96" fill="#000"/>
<line x1="172.5" y1="383.4" x2="172.5" y2="386.4" stroke="#333" stroke-width="1"/>
<text x="172.0" y="399.4" font-size="10" fill="#222" text-anchor="middle">Q</text>
<rect x="181.18" y="372.44" width="2.20" height="10.96" fill="#1a16d8"/>
<rect x="183.73" y="382.32" width="2.20" height="1.07" fill="#5ee0fa"/>
<rect x="186.28" y="380.82" width="2.20" height="2.58" fill="#7a22d8"/>
<rect x="189.18" y="378.67" width="2.20" height="4.73" fill="#a0a0a0"/>
<rect x="191.72" y="379.31" width="2.20" height="4.08" fill="#000"/>
<line x1="187.6" y1="383.4" x2="187.6" y2="386.4" stroke="#333" stroke-width="1"/>
<text x="187.1" y="399.4" font-size="10" fill="#222" text-anchor="middle">H</text>
<rect x="196.22" y="381.89" width="2.20" height="1.51" fill="#1a16d8"/>
<rect x="198.78" y="382.75" width="2.20" height="0.65" fill="#5ee0fa"/>
<rect x="201.32" y="381.46" width="2.20" height="1.93" fill="#7a22d8"/>
<rect x="204.22" y="381.25" width="2.20" height="2.15" fill="#a0a0a0"/>
<rect x="206.77" y="381.89" width="2.20" height="1.51" fill="#000"/>
<line x1="202.6" y1="383.4" x2="202.6" y2="386.4" stroke="#333" stroke-width="1"/>
<text x="202.1" y="399.4" font-size="10" fill="#222" text-anchor="middle">C</text>
<rect x="211.28" y="372.44" width="2.20" height="10.96" fill="#1a16d8"/>
<rect x="213.83" y="376.52" width="2.20" height="6.88" fill="#5ee0fa"/>
<rect x="216.38" y="367.27" width="2.20" height="16.12" fill="#7a22d8"/>
<rect x="219.28" y="373.51" width="2.20" height="9.89" fill="#a0a0a0"/>
<rect x="221.82" y="367.27" width="2.20" height="16.12" fill="#3a1428"/>
<line x1="217.7" y1="383.4" x2="217.7" y2="386.4" stroke="#333" stroke-width="1"/>
<text x="217.2" y="399.4" font-size="10" fill="#222" text-anchor="middle">P</text>
<rect x="226.33" y="366.20" width="2.20" height="17.20" fill="#1a16d8"/>
<rect x="228.88" y="360.39" width="2.20" height="23.00" fill="#5ee0fa"/>
<rect x="231.43" y="362.97" width="2.20" height="20.43" fill="#7a22d8"/>
<rect x="234.33" y="366.20" width="2.20" height="17.20" fill="#9a8494"/>
<rect x="236.88" y="366.20" width="2.20" height="17.20" fill="#3a1428"/>
<line x1="232.7" y1="383.4" x2="232.7" y2="386.4" stroke="#333" stroke-width="1"/>
<text x="232.2" y="399.4" font-size="10" fill="#222" text-anchor="middle">A</text>
<rect x="241.38" y="376.09" width="2.20" height="7.31" fill="#1a16d8"/>
<rect x="243.93" y="376.52" width="2.20" height="6.88" fill="#5ee0fa"/>
<rect x="246.47" y="376.52" width="2.20" height="6.88" fill="#7a22d8"/>
<rect x="249.38" y="370.93" width="2.20" height="12.47" fill="#a0a0a0"/>
<rect x="251.92" y="376.52" width="2.20" height="6.88" fill="#000"/>
<line x1="247.8" y1="383.4" x2="247.8" y2="386.4" stroke="#333" stroke-width="1"/>
<text x="247.2" y="399.4" font-size="10" fill="#222" text-anchor="middle">I</text>
<rect x="256.43" y="369.00" width="2.20" height="14.41" fill="#1a16d8"/>
<rect x="258.98" y="369.00" width="2.20" height="14.41" fill="#5ee0fa"/>
<rect x="261.53" y="373.51" width="2.20" height="9.89" fill="#7a22d8"/>
<rect x="264.43" y="362.54" width="2.20" height="20.86" fill="#a0a0a0"/>
<rect x="266.98" y="369.64" width="2.20" height="13.76" fill="#000"/>
<line x1="262.8" y1="383.4" x2="262.8" y2="386.4" stroke="#333" stroke-width="1"/>
<text x="262.3" y="399.4" font-size="10" fill="#222" text-anchor="middle">L</text>
<rect x="271.48" y="381.89" width="2.20" height="1.51" fill="#1a16d8"/>
<rect x="274.03" y="381.25" width="2.20" height="2.15" fill="#5ee0fa"/>
<rect x="276.58" y="381.25" width="2.20" height="2.15" fill="#7a22d8"/>
<rect x="279.48" y="378.02" width="2.20" height="5.38" fill="#a0a0a0"/>
<rect x="282.03" y="379.75" width="2.20" height="3.66" fill="#000"/>
<line x1="277.9" y1="383.4" x2="277.9" y2="386.4" stroke="#333" stroke-width="1"/>
<text x="277.4" y="399.4" font-size="10" fill="#222" text-anchor="middle">M</text>
<rect x="286.53" y="378.67" width="2.20" height="4.73" fill="#1a16d8"/>
<rect x="289.08" y="369.00" width="2.20" height="14.41" fill="#5ee0fa"/>
<rect x="291.63" y="370.93" width="2.20" height="12.47" fill="#7a22d8"/>
<rect x="294.53" y="369.21" width="2.20" height="14.19" fill="#a0a0a0"/>
<rect x="297.08" y="372.86" width="2.20" height="10.54" fill="#000"/>
<line x1="292.9" y1="383.4" x2="292.9" y2="386.4" stroke="#333" stroke-width="1"/>
<text x="292.4" y="399.4" font-size="10" fill="#222" text-anchor="middle">V</text>
<rect x="301.58" y="380.82" width="2.20" height="2.58" fill="#1a16d8"/>
<rect x="304.13" y="381.68" width="2.20" height="1.72" fill="#5ee0fa"/>
<rect x="306.68" y="381.68" width="2.20" height="1.72" fill="#7a22d8"/>
<rect x="309.58" y="375.88" width="2.20" height="7.53" fill="#a0a0a0"/>
<rect x="312.13" y="378.45" width="2.20" height="4.95" fill="#000"/>
<line x1="308.0" y1="383.4" x2="308.0" y2="386.4" stroke="#333" stroke-width="1"/>
<text x="307.5" y="399.4" font-size="10" fill="#222" text-anchor="middle">F</text>
<rect x="316.63" y="382.97" width="2.20" height="0.43" fill="#1a16d8"/>
<rect x="319.18" y="382.97" width="2.20" height="0.43" fill="#5ee0fa"/>
<rect x="321.73" y="382.97" width="2.20" height="0.43" fill="#7a22d8"/>
<rect x="324.63" y="382.11" width="2.20" height="1.29" fill="#a0a0a0"/>
<rect x="327.18" y="382.32" width="2.20" height="1.07" fill="#000"/>
<line x1="323.0" y1="383.4" x2="323.0" y2="386.4" stroke="#333" stroke-width="1"/>
<text x="322.5" y="399.4" font-size="10" fill="#222" text-anchor="middle">W</text>
<rect x="331.68" y="380.60" width="2.20" height="2.79" fill="#1a16d8"/>
<rect x="334.23" y="382.54" width="2.20" height="0.86" fill="#5ee0fa"/>
<rect x="336.78" y="382.54" width="2.20" height="0.86" fill="#7a22d8"/>
<rect x="339.68" y="377.59" width="2.20" height="5.80" fill="#a0a0a0"/>
<rect x="342.23" y="379.75" width="2.20" height="3.66" fill="#000"/>
<line x1="338.1" y1="383.4" x2="338.1" y2="386.4" stroke="#333" stroke-width="1"/>
<text x="337.6" y="399.4" font-size="10" fill="#222" text-anchor="middle">Y</text>
<text x="3.5" y="443" font-size="10" font-weight="bold" fill="#111">E</text>
<line x1="86.9" y1="442" x2="107.7" y2="442" stroke="#000" stroke-width="1.5"/>
<text x="113" y="444.4" font-size="7.5" font-weight="bold" fill="#111">HMM.background</text>
<rect x="185.2" y="442.5" width="22.3" height="4.5" fill="#fde6f4"/>
<line x1="185.2" y1="441.8" x2="207.5" y2="441.8" stroke="#a04a30" stroke-width="1.5"/>
<text x="209.3" y="444.4" font-size="7.5" font-weight="bold" fill="#111">HMM.Prd-like</text>
<line x1="41" y1="456.6" x2="41" y2="507.6" stroke="#444" stroke-width="0.7"/>
<line x1="41" y1="507.6" x2="343" y2="507.6" stroke="#444" stroke-width="0.7"/>
<line x1="39.5" y1="507.6" x2="41" y2="507.6" stroke="#444" stroke-width="0.6"/>
<text x="37.5" y="509.6" font-size="5.6" fill="#444" text-anchor="end">0</text>
<line x1="39.5" y1="497.4" x2="41" y2="497.4" stroke="#444" stroke-width="0.6"/>
<text x="37.5" y="499.4" font-size="5.6" fill="#444" text-anchor="end">0.2</text>
<line x1="39.5" y1="487.2" x2="41" y2="487.2" stroke="#444" stroke-width="0.6"/>
<text x="37.5" y="489.2" font-size="5.6" fill="#444" text-anchor="end">0.4</text>
<line x1="39.5" y1="477.0" x2="41" y2="477.0" stroke="#444" stroke-width="0.6"/>
<text x="37.5" y="479.0" font-size="5.6" fill="#444" text-anchor="end">0.6</text>
<line x1="39.5" y1="466.8" x2="41" y2="466.8" stroke="#444" stroke-width="0.6"/>
<text x="37.5" y="468.8" font-size="5.6" fill="#444" text-anchor="end">0.8</text>
<line x1="39.5" y1="456.6" x2="41" y2="456.6" stroke="#444" stroke-width="0.6"/>
<text x="37.5" y="458.6" font-size="5.6" fill="#444" text-anchor="end">1</text>
<line x1="41.0" y1="507.6" x2="41.0" y2="509.1" stroke="#444" stroke-width="0.6"/>
<text x="41.0" y="519" font-size="5.6" fill="#444" text-anchor="middle">0</text>
<line x1="59.9" y1="507.6" x2="59.9" y2="509.1" stroke="#444" stroke-width="0.6"/>
<text x="59.9" y="519" font-size="5.6" fill="#444" text-anchor="middle">100</text>
<line x1="78.8" y1="507.6" x2="78.8" y2="509.1" stroke="#444" stroke-width="0.6"/>
<text x="78.8" y="519" font-size="5.6" fill="#444" text-anchor="middle">200</text>
<line x1="97.6" y1="507.6" x2="97.6" y2="509.1" stroke="#444" stroke-width="0.6"/>
<text x="97.6" y="519" font-size="5.6" fill="#444" text-anchor="middle">300</text>
<line x1="116.5" y1="507.6" x2="116.5" y2="509.1" stroke="#444" stroke-width="0.6"/>
<text x="116.5" y="519" font-size="5.6" fill="#444" text-anchor="middle">400</text>
<line x1="135.4" y1="507.6" x2="135.4" y2="509.1" stroke="#444" stroke-width="0.6"/>
<text x="135.4" y="519" font-size="5.6" fill="#444" text-anchor="middle">500</text>
<line x1="154.3" y1="507.6" x2="154.3" y2="509.1" stroke="#444" stroke-width="0.6"/>
<text x="154.3" y="519" font-size="5.6" fill="#444" text-anchor="middle">600</text>
<line x1="173.2" y1="507.6" x2="173.2" y2="509.1" stroke="#444" stroke-width="0.6"/>
<text x="173.2" y="519" font-size="5.6" fill="#444" text-anchor="middle">700</text>
<line x1="192.0" y1="507.6" x2="192.0" y2="509.1" stroke="#444" stroke-width="0.6"/>
<text x="192.0" y="519" font-size="5.6" fill="#444" text-anchor="middle">800</text>
<line x1="210.9" y1="507.6" x2="210.9" y2="509.1" stroke="#444" stroke-width="0.6"/>
<text x="210.9" y="519" font-size="5.6" fill="#444" text-anchor="middle">900</text>
<line x1="229.8" y1="507.6" x2="229.8" y2="509.1" stroke="#444" stroke-width="0.6"/>
<text x="229.8" y="519" font-size="5.6" fill="#444" text-anchor="middle">1000</text>
<line x1="248.7" y1="507.6" x2="248.7" y2="509.1" stroke="#444" stroke-width="0.6"/>
<text x="248.7" y="519" font-size="5.6" fill="#444" text-anchor="middle">1100</text>
<line x1="267.6" y1="507.6" x2="267.6" y2="509.1" stroke="#444" stroke-width="0.6"/>
<text x="267.6" y="519" font-size="5.6" fill="#444" text-anchor="middle">1200</text>
<line x1="286.4" y1="507.6" x2="286.4" y2="509.1" stroke="#444" stroke-width="0.6"/>
<text x="286.4" y="519" font-size="5.6" fill="#444" text-anchor="middle">1300</text>
<line x1="305.3" y1="507.6" x2="305.3" y2="509.1" stroke="#444" stroke-width="0.6"/>
<text x="305.3" y="519" font-size="5.6" fill="#444" text-anchor="middle">1400</text>
<line x1="324.2" y1="507.6" x2="324.2" y2="509.1" stroke="#444" stroke-width="0.6"/>
<text x="324.2" y="519" font-size="5.6" fill="#444" text-anchor="middle">1500</text>
<line x1="343.1" y1="507.6" x2="343.1" y2="509.1" stroke="#444" stroke-width="0.6"/>
<text x="343.1" y="519" font-size="5.6" fill="#444" text-anchor="middle">1600</text>
<clipPath id="ec"><rect x="41" y="456.6" width="303" height="54.4"/></clipPath>
<path d="M41.50,507.60 L49.60,507.60 Q51.20,507.60 51.24,506.00 L52.36,458.50 Q52.40,456.90 54.00,456.90 L54.70,456.90 Q56.30,456.90 56.34,458.50 L57.46,506.00 Q57.50,507.60 59.10,507.60 L59.90,507.60 Q61.50,507.60 62.15,506.14 L62.35,505.66 Q63.00,504.20 63.61,502.72 L64.09,501.58 Q64.70,500.10 65.60,501.15 L65.60,501.15 Q66.50,502.20 67.15,502.70 L67.15,502.70 Q67.80,503.20 68.65,503.60 L68.65,503.60 Q69.50,504.00 70.25,503.60 L70.25,503.60 Q71.00,503.20 71.50,504.30 L71.50,504.30 Q72.00,505.40 72.75,505.05 L72.75,505.05 Q73.50,504.70 74.00,505.70 L74.00,505.70 Q74.50,506.70 75.25,505.45 L75.25,505.45 Q76.00,504.20 76.75,505.45 L76.75,505.45 Q77.50,506.70 78.25,505.70 L78.25,505.70 Q79.00,504.70 79.75,505.95 L79.75,505.95 Q80.50,507.20 81.25,506.95 L81.25,506.95 Q82.00,506.70 82.75,507.05 L82.75,507.05 Q83.50,507.40 84.25,506.30 L84.25,506.30 Q85.00,505.20 85.85,506.20 L85.85,506.20 Q86.70,507.20 86.95,505.62 L87.25,503.78 Q87.50,502.20 87.57,500.60 L88.43,480.80 Q88.50,479.20 88.60,477.60 L89.70,460.80 Q89.80,459.20 90.40,458.20 L90.40,458.20 Q91.00,457.20 92.59,457.38 L93.91,457.52 Q95.50,457.70 95.64,459.29 L96.36,467.61 Q96.50,469.20 96.61,470.80 L97.39,482.60 Q97.50,484.20 97.77,485.78 L98.33,489.12 Q98.60,490.70 99.33,492.12 L99.47,492.38 Q100.20,493.80 101.10,493.25 L101.10,493.25 Q102.00,492.70 102.82,491.33 L103.28,490.57 Q104.10,489.20 104.49,487.65 L105.31,484.35 Q105.70,482.80 106.09,481.25 L106.91,478.05 Q107.30,476.50 107.47,474.91 L108.03,469.79 Q108.20,468.20 108.40,466.61 L109.00,461.79 Q109.20,460.20 109.80,458.95 L109.80,458.95 Q110.40,457.70 112.00,457.70 L124.50,457.70 Q126.10,457.70 126.16,459.30 L127.34,490.60 Q127.40,492.20 127.50,493.80 L128.20,505.60 Q128.30,507.20 129.55,507.20 L129.55,507.20 Q130.80,507.20 130.92,505.60 L131.78,493.80 Q131.90,492.20 131.97,490.60 L133.13,465.80 Q133.20,464.20 133.56,462.64 L134.34,459.26 Q134.70,457.70 136.30,457.70 L152.00,457.70 Q153.60,457.70 153.69,459.30 L154.41,472.60 Q154.50,474.20 154.69,475.79 L155.81,485.11 Q156.00,486.70 156.21,485.11 L156.79,480.79 Q157.00,479.20 157.04,477.60 L157.56,459.30 Q157.60,457.70 159.20,457.70 L162.20,457.70 Q163.80,457.70 164.20,459.25 L165.10,462.65 Q165.50,464.20 166.22,465.63 L166.28,465.77 Q167.00,467.20 168.00,468.20 L168.00,468.20 Q169.00,469.20 169.20,470.79 L170.70,482.61 Q170.90,484.20 171.04,485.79 L172.36,500.61 Q172.50,502.20 172.96,503.73 L173.54,505.67 Q174.00,507.20 175.60,507.20 L175.60,507.20 Q177.20,507.20 177.31,505.60 L178.69,485.80 Q178.80,484.20 178.94,482.61 L180.16,468.79 Q180.30,467.20 180.93,468.67 L181.37,469.73 Q182.00,471.20 182.50,472.72 L184.50,478.88 Q185.00,480.40 185.38,478.84 L186.12,475.76 Q186.50,474.20 186.66,472.61 L188.04,459.29 Q188.20,457.70 189.80,457.70 L220.40,457.70 Q222.00,457.70 222.09,459.30 L223.41,482.60 Q223.50,484.20 223.67,485.79 L225.73,505.61 Q225.90,507.20 227.50,507.20 L230.60,507.20 Q232.20,507.20 232.32,505.60 L233.88,485.80 Q234.00,484.20 234.19,482.61 L236.71,461.59 Q236.90,460.00 238.50,460.00 L239.40,460.00 Q241.00,460.00 241.16,461.59 L243.34,482.61 Q243.50,484.20 243.69,485.79 L246.11,505.61 Q246.30,507.20 247.90,507.20 L268.40,507.20 Q270.00,507.20 270.20,506.35 L270.20,506.35 Q270.40,505.50 270.70,506.35 L270.70,506.35 Q271.00,507.20 272.60,507.20 L342.60,507.20" fill="none" stroke="#fdeff7" stroke-width="7" stroke-linejoin="round" clip-path="url(#ec)"/>
<path d="M41.50,507.60 L49.60,507.60 Q51.20,507.60 51.24,506.00 L52.36,458.50 Q52.40,456.90 54.00,456.90 L54.70,456.90 Q56.30,456.90 56.34,458.50 L57.46,506.00 Q57.50,507.60 59.10,507.60 L59.90,507.60 Q61.50,507.60 62.15,506.14 L62.35,505.66 Q63.00,504.20 63.61,502.72 L64.09,501.58 Q64.70,500.10 65.60,501.15 L65.60,501.15 Q66.50,502.20 67.15,502.70 L67.15,502.70 Q67.80,503.20 68.65,503.60 L68.65,503.60 Q69.50,504.00 70.25,503.60 L70.25,503.60 Q71.00,503.20 71.50,504.30 L71.50,504.30 Q72.00,505.40 72.75,505.05 L72.75,505.05 Q73.50,504.70 74.00,505.70 L74.00,505.70 Q74.50,506.70 75.25,505.45 L75.25,505.45 Q76.00,504.20 76.75,505.45 L76.75,505.45 Q77.50,506.70 78.25,505.70 L78.25,505.70 Q79.00,504.70 79.75,505.95 L79.75,505.95 Q80.50,507.20 81.25,506.95 L81.25,506.95 Q82.00,506.70 82.75,507.05 L82.75,507.05 Q83.50,507.40 84.25,506.30 L84.25,506.30 Q85.00,505.20 85.85,506.20 L85.85,506.20 Q86.70,507.20 86.95,505.62 L87.25,503.78 Q87.50,502.20 87.57,500.60 L88.43,480.80 Q88.50,479.20 88.60,477.60 L89.70,460.80 Q89.80,459.20 90.40,458.20 L90.40,458.20 Q91.00,457.20 92.59,457.38 L93.91,457.52 Q95.50,457.70 95.64,459.29 L96.36,467.61 Q96.50,469.20 96.61,470.80 L97.39,482.60 Q97.50,484.20 97.77,485.78 L98.33,489.12 Q98.60,490.70 99.33,492.12 L99.47,492.38 Q100.20,493.80 101.10,493.25 L101.10,493.25 Q102.00,492.70 102.82,491.33 L103.28,490.57 Q104.10,489.20 104.49,487.65 L105.31,484.35 Q105.70,482.80 106.09,481.25 L106.91,478.05 Q107.30,476.50 107.47,474.91 L108.03,469.79 Q108.20,468.20 108.40,466.61 L109.00,461.79 Q109.20,460.20 109.80,458.95 L109.80,458.95 Q110.40,457.70 112.00,457.70 L124.50,457.70 Q126.10,457.70 126.16,459.30 L127.34,490.60 Q127.40,492.20 127.50,493.80 L128.20,505.60 Q128.30,507.20 129.55,507.20 L129.55,507.20 Q130.80,507.20 130.92,505.60 L131.78,493.80 Q131.90,492.20 131.97,490.60 L133.13,465.80 Q133.20,464.20 133.56,462.64 L134.34,459.26 Q134.70,457.70 136.30,457.70 L152.00,457.70 Q153.60,457.70 153.69,459.30 L154.41,472.60 Q154.50,474.20 154.69,475.79 L155.81,485.11 Q156.00,486.70 156.21,485.11 L156.79,480.79 Q157.00,479.20 157.04,477.60 L157.56,459.30 Q157.60,457.70 159.20,457.70 L162.20,457.70 Q163.80,457.70 164.20,459.25 L165.10,462.65 Q165.50,464.20 166.22,465.63 L166.28,465.77 Q167.00,467.20 168.00,468.20 L168.00,468.20 Q169.00,469.20 169.20,470.79 L170.70,482.61 Q170.90,484.20 171.04,485.79 L172.36,500.61 Q172.50,502.20 172.96,503.73 L173.54,505.67 Q174.00,507.20 175.60,507.20 L175.60,507.20 Q177.20,507.20 177.31,505.60 L178.69,485.80 Q178.80,484.20 178.94,482.61 L180.16,468.79 Q180.30,467.20 180.93,468.67 L181.37,469.73 Q182.00,471.20 182.50,472.72 L184.50,478.88 Q185.00,480.40 185.38,478.84 L186.12,475.76 Q186.50,474.20 186.66,472.61 L188.04,459.29 Q188.20,457.70 189.80,457.70 L220.40,457.70 Q222.00,457.70 222.09,459.30 L223.41,482.60 Q223.50,484.20 223.67,485.79 L225.73,505.61 Q225.90,507.20 227.50,507.20 L230.60,507.20 Q232.20,507.20 232.32,505.60 L233.88,485.80 Q234.00,484.20 234.19,482.61 L236.71,461.59 Q236.90,460.00 238.50,460.00 L239.40,460.00 Q241.00,460.00 241.16,461.59 L243.34,482.61 Q243.50,484.20 243.69,485.79 L246.11,505.61 Q246.30,507.20 247.90,507.20 L268.40,507.20 Q270.00,507.20 270.20,506.35 L270.20,506.35 Q270.40,505.50 270.70,506.35 L270.70,506.35 Q271.00,507.20 272.60,507.20 L342.60,507.20" fill="none" stroke="#9a5236" stroke-width="1.25" stroke-linejoin="round"/>
<path d="M53.6,456.6 Q54.2,456.6 54.3,470 L54.4,506 Q54.9,507.4 55.4,506 L55.5,470 Q55.6,456.6 56.2,456.6" fill="none" stroke="#9a5236" stroke-width="1"/>
<path d="M41.50,456.60 L49.60,456.60 Q51.20,456.60 51.24,458.20 L52.36,505.70 Q52.40,507.30 54.00,507.30 L54.70,507.30 Q56.30,507.30 56.34,505.70 L57.46,458.20 Q57.50,456.60 59.10,456.60 L59.90,456.60 Q61.50,456.60 62.15,458.06 L62.35,458.54 Q63.00,460.00 63.61,461.48 L64.09,462.62 Q64.70,464.10 65.60,463.05 L65.60,463.05 Q66.50,462.00 67.15,461.50 L67.15,461.50 Q67.80,461.00 68.65,460.60 L68.65,460.60 Q69.50,460.20 70.25,460.60 L70.25,460.60 Q71.00,461.00 71.50,459.90 L71.50,459.90 Q72.00,458.80 72.75,459.15 L72.75,459.15 Q73.50,459.50 74.00,458.50 L74.00,458.50 Q74.50,457.50 75.25,458.75 L75.25,458.75 Q76.00,460.00 76.75,458.75 L76.75,458.75 Q77.50,457.50 78.25,458.50 L78.25,458.50 Q79.00,459.50 79.75,458.25 L79.75,458.25 Q80.50,457.00 81.25,457.25 L81.25,457.25 Q82.00,457.50 82.75,457.15 L82.75,457.15 Q83.50,456.80 84.25,457.90 L84.25,457.90 Q85.00,459.00 85.85,458.00 L85.85,458.00 Q86.70,457.00 86.95,458.58 L87.25,460.42 Q87.50,462.00 87.57,463.60 L88.43,483.40 Q88.50,485.00 88.60,486.60 L89.70,503.40 Q89.80,505.00 90.40,506.00 L90.40,506.00 Q91.00,507.00 92.59,506.82 L93.91,506.68 Q95.50,506.50 95.64,504.91 L96.36,496.59 Q96.50,495.00 96.61,493.40 L97.39,481.60 Q97.50,480.00 97.77,478.42 L98.33,475.08 Q98.60,473.50 99.33,472.08 L99.47,471.82 Q100.20,470.40 101.10,470.95 L101.10,470.95 Q102.00,471.50 102.82,472.87 L103.28,473.63 Q104.10,475.00 104.49,476.55 L105.31,479.85 Q105.70,481.40 106.09,482.95 L106.91,486.15 Q107.30,487.70 107.47,489.29 L108.03,494.41 Q108.20,496.00 108.40,497.59 L109.00,502.41 Q109.20,504.00 109.80,505.25 L109.80,505.25 Q110.40,506.50 112.00,506.50 L124.50,506.50 Q126.10,506.50 126.16,504.90 L127.34,473.60 Q127.40,472.00 127.50,470.40 L128.20,458.60 Q128.30,457.00 129.55,457.00 L129.55,457.00 Q130.80,457.00 130.92,458.60 L131.78,470.40 Q131.90,472.00 131.97,473.60 L133.13,498.40 Q133.20,500.00 133.56,501.56 L134.34,504.94 Q134.70,506.50 136.30,506.50 L152.00,506.50 Q153.60,506.50 153.69,504.90 L154.41,491.60 Q154.50,490.00 154.69,488.41 L155.81,479.09 Q156.00,477.50 156.21,479.09 L156.79,483.41 Q157.00,485.00 157.04,486.60 L157.56,504.90 Q157.60,506.50 159.20,506.50 L162.20,506.50 Q163.80,506.50 164.20,504.95 L165.10,501.55 Q165.50,500.00 166.22,498.57 L166.28,498.43 Q167.00,497.00 168.00,496.00 L168.00,496.00 Q169.00,495.00 169.20,493.41 L170.70,481.59 Q170.90,480.00 171.04,478.41 L172.36,463.59 Q172.50,462.00 172.96,460.47 L173.54,458.53 Q174.00,457.00 175.60,457.00 L175.60,457.00 Q177.20,457.00 177.31,458.60 L178.69,478.40 Q178.80,480.00 178.94,481.59 L180.16,495.41 Q180.30,497.00 180.93,495.53 L181.37,494.47 Q182.00,493.00 182.50,491.48 L184.50,485.32 Q185.00,483.80 185.38,485.36 L186.12,488.44 Q186.50,490.00 186.66,491.59 L188.04,504.91 Q188.20,506.50 189.80,506.50 L220.40,506.50 Q222.00,506.50 222.09,504.90 L223.41,481.60 Q223.50,480.00 223.67,478.41 L225.73,458.59 Q225.90,457.00 227.50,457.00 L230.60,457.00 Q232.20,457.00 232.32,458.60 L233.88,478.40 Q234.00,480.00 234.19,481.59 L236.71,502.61 Q236.90,504.20 238.50,504.20 L239.40,504.20 Q241.00,504.20 241.16,502.61 L243.34,481.59 Q243.50,480.00 243.69,478.41 L246.11,458.59 Q246.30,457.00 247.90,457.00 L268.40,457.00 Q270.00,457.00 270.20,457.85 L270.20,457.85 Q270.40,458.70 270.70,457.85 L270.70,457.85 Q271.00,457.00 272.60,457.00 L342.60,457.00" fill="none" stroke="#000" stroke-width="1.35" stroke-linejoin="round"/>
<rect x="41.5" y="535.2" width="306.6" height="11.7" fill="#1c2a5a"/>
<rect x="42.3" y="536" width="79" height="10.1" fill="#2e66c8"/>
<rect x="122" y="536" width="102.4" height="10.1" fill="#2aa6e2"/>
<rect x="223.9" y="536" width="3.4" height="10.1" fill="#a08ae0"/>
<rect x="226.8" y="536" width="60.5" height="10.1" fill="#8a2a9e"/>
<rect x="287.3" y="535.3" width="60.8" height="11.5" fill="#000"/>
<rect x="290" y="535.3" width="8.4" height="11.5" fill="#808080"/>
<rect x="302" y="535.3" width="6.9" height="11.5" fill="#c8c8c8"/>
<rect x="327.7" y="535.3" width="3.6" height="11.5" fill="#5a1a10"/>
<rect x="331.3" y="535.3" width="4.2" height="11.5" fill="#b05030"/>
<rect x="335.5" y="535.3" width="8.4" height="11.5" fill="#e82a20"/>
<text x="81" y="543.7" font-size="8.2" font-weight="bold" fill="#e6f4ff" text-anchor="middle">Ph1</text>
<text x="172.2" y="543.7" font-size="8.2" font-weight="bold" fill="#e6f4ff" text-anchor="middle">Ph2</text>
<text x="262.5" y="543.7" font-size="8.2" font-weight="bold" fill="#e6f4ff" text-anchor="middle">Ph3</text>
<text font-size="7" fill="#111" transform="translate(288.6,533.2) scale(0.78,1)">HD1</text>
<text font-size="7" fill="#111" transform="translate(301.3,533.2) scale(0.78,1)">FCS</text>
<text font-size="7" fill="#111" transform="translate(332.3,533.2) scale(0.78,1)">SAM</text>
<rect x="331" y="546.8" width="14" height="2.5" fill="#fde0f0"/>
</svg></body></html>
